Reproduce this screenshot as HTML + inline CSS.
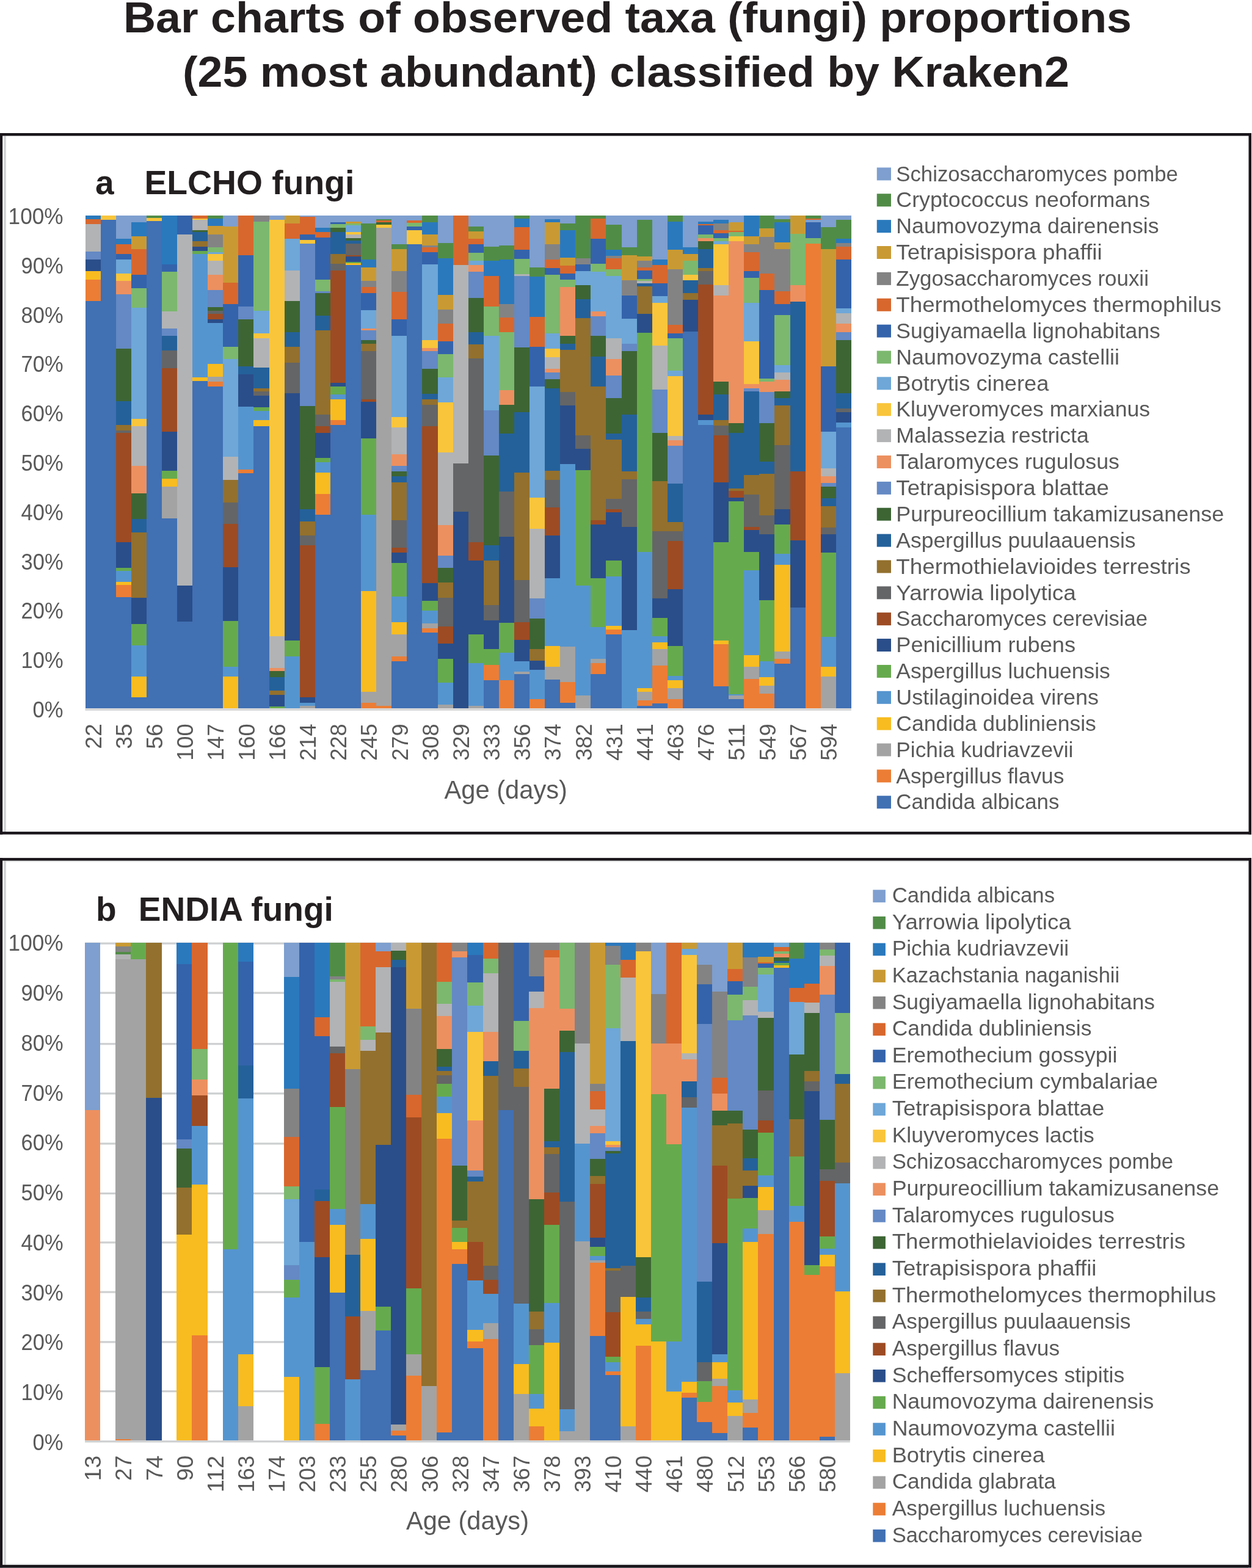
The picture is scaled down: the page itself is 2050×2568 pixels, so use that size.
<!DOCTYPE html><html><head><meta charset="utf-8"><title>Bar charts of observed taxa (fungi) proportions</title>
<style>html,body{margin:0;padding:0;background:#fff;overflow:hidden;}svg{display:block;}.tt{font-family:'Liberation Sans', Arial, sans-serif;font-weight:bold;font-size:71px;fill:#231f20;}.pl{font-family:'Liberation Sans', Arial, sans-serif;font-weight:bold;font-size:55px;fill:#231f20;}.tk{font-family:'Liberation Sans', Arial, sans-serif;font-size:37px;fill:#595959;}.xt{font-family:'Liberation Sans', Arial, sans-serif;font-size:36px;fill:#595959;}.ax{font-family:'Liberation Sans', Arial, sans-serif;font-size:42px;fill:#595959;}.lg{font-family:'Liberation Sans', Arial, sans-serif;font-size:35.3px;fill:#595959;}</style></head><body>
<svg width="2050" height="2568" viewBox="0 0 2050 2568">
<style>g.b rect{shape-rendering:crispEdges}</style>
<rect x="0" y="0" width="2050" height="2568" fill="#fff"/>
<text x="202" y="53.3" textLength="1651" lengthAdjust="spacingAndGlyphs" class="tt">Bar charts of observed taxa (fungi) proportions</text>
<text x="299" y="142.2" textLength="1452" lengthAdjust="spacingAndGlyphs" class="tt">(25 most abundant) classified by Kraken2</text>
<rect x="6.3" y="222.5" width="3.5" height="1139.6" fill="#cfd2d3"/>
<rect x="0" y="218" width="2049" height="4.5" fill="#19151a"/>
<rect x="0" y="1362.1" width="2049" height="4.5" fill="#19151a"/>
<rect x="0" y="218" width="4.2" height="1148.6" fill="#19151a"/>
<rect x="2044.5" y="218" width="4.5" height="1148.6" fill="#19151a"/>
<rect x="6.3" y="1409.6" width="3.5" height="1153.2" fill="#cfd2d3"/>
<rect x="0" y="1405.1" width="2049" height="4.5" fill="#19151a"/>
<rect x="0" y="2562.8" width="2049" height="4.5" fill="#19151a"/>
<rect x="0" y="1405.1" width="4.2" height="1162.2" fill="#19151a"/>
<rect x="2044.5" y="1405.1" width="4.5" height="1162.2" fill="#19151a"/>
<rect x="0" y="2567.3" width="2044" height="0.7" fill="#41474b"/>
<rect x="9.8" y="1410.2" width="2034" height="1.3" fill="#e2e4e4"/>
<rect x="9.8" y="2560.5" width="2034" height="1.6" fill="#eceeee"/>
<text x="156" y="317.5" class="pl">a</text>
<text x="236.4" y="317.5" textLength="344" lengthAdjust="spacingAndGlyphs" class="pl">ELCHO fungi</text>
<text x="157" y="1508.3" class="pl">b</text>
<text x="226.8" y="1508.3" textLength="319" lengthAdjust="spacingAndGlyphs" class="pl">ENDIA fungi</text>
<rect x="139.5" y="1160.2" width="1254.4" height="3.6" fill="#d6d6d6"/>
<g class="b">
<rect x="139.5" y="492.91" width="25.39" height="667.19" fill="#4170b3"/>
<rect x="139.5" y="457.43" width="25.39" height="35.78" fill="#ec7d35"/>
<rect x="139.5" y="443.72" width="25.39" height="14.01" fill="#f8bc20"/>
<rect x="139.5" y="424.36" width="25.39" height="19.65" fill="#2a4e8a"/>
<rect x="139.5" y="411.46" width="25.39" height="13.2" fill="#6489c4"/>
<rect x="139.5" y="367.11" width="25.39" height="44.65" fill="#b2b3b4"/>
<rect x="139.5" y="358.24" width="25.39" height="9.17" fill="#d8672d"/>
<rect x="139.5" y="353.4" width="25.39" height="5.14" fill="#2a79bd"/>
<rect x="164.59" y="359.85" width="25.39" height="800.25" fill="#4170b3"/>
<rect x="164.59" y="353.4" width="25.39" height="6.75" fill="#f9c53b"/>
<rect x="189.68" y="977.55" width="25.39" height="182.55" fill="#4170b3"/>
<rect x="189.68" y="957.39" width="25.39" height="20.46" fill="#ec7d35"/>
<rect x="189.68" y="952.56" width="25.39" height="5.14" fill="#f8bc20"/>
<rect x="189.68" y="934.81" width="25.39" height="18.04" fill="#5595cf"/>
<rect x="189.68" y="929.98" width="25.39" height="5.14" fill="#66aa4e"/>
<rect x="189.68" y="888.04" width="25.39" height="42.23" fill="#2a4e8a"/>
<rect x="189.68" y="708.22" width="25.39" height="180.13" fill="#9d4b23"/>
<rect x="189.68" y="704.99" width="25.39" height="3.53" fill="#646566"/>
<rect x="189.68" y="695.31" width="25.39" height="9.98" fill="#93702d"/>
<rect x="189.68" y="656.61" width="25.39" height="39.01" fill="#24619a"/>
<rect x="189.68" y="571.13" width="25.39" height="85.78" fill="#3d6534"/>
<rect x="189.68" y="481.62" width="25.39" height="89.81" fill="#6489c4"/>
<rect x="189.68" y="459.84" width="25.39" height="22.07" fill="#ec9060"/>
<rect x="189.68" y="447.75" width="25.39" height="12.4" fill="#f9c53b"/>
<rect x="189.68" y="424.36" width="25.39" height="23.69" fill="#6ea7d8"/>
<rect x="189.68" y="415.9" width="25.39" height="8.77" fill="#3463ab"/>
<rect x="189.68" y="399.36" width="25.39" height="16.83" fill="#d8672d"/>
<rect x="189.68" y="390.9" width="25.39" height="8.77" fill="#2a79bd"/>
<rect x="189.68" y="353.4" width="25.39" height="37.8" fill="#7e9fcf"/>
<rect x="214.76" y="1141.25" width="25.39" height="18.85" fill="#4170b3"/>
<rect x="214.76" y="1107.38" width="25.39" height="34.17" fill="#f8bc20"/>
<rect x="214.76" y="1056.58" width="25.39" height="51.1" fill="#5595cf"/>
<rect x="214.76" y="1021.91" width="25.39" height="34.98" fill="#66aa4e"/>
<rect x="214.76" y="978.36" width="25.39" height="43.85" fill="#2a4e8a"/>
<rect x="214.76" y="871.92" width="25.39" height="106.74" fill="#93702d"/>
<rect x="214.76" y="850.14" width="25.39" height="22.07" fill="#24619a"/>
<rect x="214.76" y="807.4" width="25.39" height="43.04" fill="#3d6534"/>
<rect x="214.76" y="763.05" width="25.39" height="44.65" fill="#ec9060"/>
<rect x="214.76" y="697.73" width="25.39" height="65.62" fill="#b2b3b4"/>
<rect x="214.76" y="686.04" width="25.39" height="11.99" fill="#f9c53b"/>
<rect x="214.76" y="503.39" width="25.39" height="182.95" fill="#6ea7d8"/>
<rect x="214.76" y="471.94" width="25.39" height="31.75" fill="#7cb86e"/>
<rect x="214.76" y="450.17" width="25.39" height="22.07" fill="#3463ab"/>
<rect x="214.76" y="407.43" width="25.39" height="43.04" fill="#d8672d"/>
<rect x="214.76" y="386.46" width="25.39" height="21.27" fill="#c99a33"/>
<rect x="214.76" y="363.88" width="25.39" height="22.88" fill="#2a79bd"/>
<rect x="214.76" y="353.4" width="25.39" height="10.78" fill="#7e9fcf"/>
<rect x="239.85" y="361.46" width="25.39" height="798.64" fill="#4170b3"/>
<rect x="239.85" y="356.63" width="25.39" height="5.14" fill="#f9c53b"/>
<rect x="239.85" y="353.4" width="25.39" height="3.53" fill="#518c47"/>
<rect x="264.94" y="848.53" width="25.39" height="311.57" fill="#4170b3"/>
<rect x="264.94" y="796.52" width="25.39" height="52.31" fill="#a3a3a3"/>
<rect x="264.94" y="783.21" width="25.39" height="13.61" fill="#f8bc20"/>
<rect x="264.94" y="770.31" width="25.39" height="13.2" fill="#66aa4e"/>
<rect x="264.94" y="706.6" width="25.39" height="64.01" fill="#2a4e8a"/>
<rect x="264.94" y="602.58" width="25.39" height="104.33" fill="#9d4b23"/>
<rect x="264.94" y="573.55" width="25.39" height="29.33" fill="#646566"/>
<rect x="264.94" y="549.36" width="25.39" height="24.49" fill="#24619a"/>
<rect x="264.94" y="537.26" width="25.39" height="12.4" fill="#6489c4"/>
<rect x="264.94" y="509.84" width="25.39" height="27.72" fill="#b2b3b4"/>
<rect x="264.94" y="444.52" width="25.39" height="65.62" fill="#7cb86e"/>
<rect x="264.94" y="432.43" width="25.39" height="12.4" fill="#3463ab"/>
<rect x="264.94" y="353.4" width="25.39" height="79.33" fill="#2a79bd"/>
<rect x="290.03" y="1017.87" width="25.39" height="142.23" fill="#4170b3"/>
<rect x="290.03" y="959.01" width="25.39" height="59.17" fill="#2a4e8a"/>
<rect x="290.03" y="383.24" width="25.39" height="576.07" fill="#b2b3b4"/>
<rect x="290.03" y="353.4" width="25.39" height="30.14" fill="#3463ab"/>
<rect x="315.12" y="623.54" width="25.39" height="536.56" fill="#4170b3"/>
<rect x="315.12" y="617.9" width="25.39" height="5.94" fill="#f8bc20"/>
<rect x="315.12" y="415.9" width="25.39" height="202.3" fill="#5595cf"/>
<rect x="315.12" y="411.06" width="25.39" height="5.14" fill="#66aa4e"/>
<rect x="315.12" y="403.4" width="25.39" height="7.96" fill="#2a4e8a"/>
<rect x="315.12" y="394.53" width="25.39" height="9.17" fill="#93702d"/>
<rect x="315.12" y="380.01" width="25.39" height="14.82" fill="#24619a"/>
<rect x="315.12" y="376.79" width="25.39" height="3.53" fill="#3d6534"/>
<rect x="315.12" y="359.85" width="25.39" height="17.23" fill="#b2b3b4"/>
<rect x="315.12" y="357.43" width="25.39" height="2.72" fill="#f9c53b"/>
<rect x="315.12" y="353.4" width="25.39" height="4.33" fill="#d8672d"/>
<rect x="340.2" y="632.41" width="25.39" height="527.69" fill="#4170b3"/>
<rect x="340.2" y="624.35" width="25.39" height="8.36" fill="#ec7d35"/>
<rect x="340.2" y="617.09" width="25.39" height="7.56" fill="#a3a3a3"/>
<rect x="340.2" y="595.32" width="25.39" height="22.07" fill="#f8bc20"/>
<rect x="340.2" y="528.39" width="25.39" height="67.23" fill="#5595cf"/>
<rect x="340.2" y="522.74" width="25.39" height="5.94" fill="#2a4e8a"/>
<rect x="340.2" y="513.87" width="25.39" height="9.17" fill="#9d4b23"/>
<rect x="340.2" y="509.04" width="25.39" height="5.14" fill="#646566"/>
<rect x="340.2" y="502.58" width="25.39" height="6.75" fill="#3d6534"/>
<rect x="340.2" y="474.36" width="25.39" height="28.52" fill="#6489c4"/>
<rect x="340.2" y="450.17" width="25.39" height="24.49" fill="#ec9060"/>
<rect x="340.2" y="426.78" width="25.39" height="23.69" fill="#b2b3b4"/>
<rect x="340.2" y="415.9" width="25.39" height="11.19" fill="#f9c53b"/>
<rect x="340.2" y="412.27" width="25.39" height="3.93" fill="#6ea7d8"/>
<rect x="340.2" y="405.01" width="25.39" height="7.56" fill="#7cb86e"/>
<rect x="340.2" y="404.2" width="25.39" height="1.11" fill="#3463ab"/>
<rect x="340.2" y="383.24" width="25.39" height="21.27" fill="#838384"/>
<rect x="340.2" y="369.53" width="25.39" height="14.01" fill="#c99a33"/>
<rect x="340.2" y="357.43" width="25.39" height="12.4" fill="#2a79bd"/>
<rect x="340.2" y="353.4" width="25.39" height="4.33" fill="#518c47"/>
<rect x="365.29" y="1107.38" width="25.39" height="52.72" fill="#f8bc20"/>
<rect x="365.29" y="1091.26" width="25.39" height="16.43" fill="#5595cf"/>
<rect x="365.29" y="1017.07" width="25.39" height="74.49" fill="#66aa4e"/>
<rect x="365.29" y="928.36" width="25.39" height="89" fill="#2a4e8a"/>
<rect x="365.29" y="857.4" width="25.39" height="71.26" fill="#9d4b23"/>
<rect x="365.29" y="822.72" width="25.39" height="34.98" fill="#646566"/>
<rect x="365.29" y="785.63" width="25.39" height="37.39" fill="#93702d"/>
<rect x="365.29" y="747.73" width="25.39" height="38.2" fill="#b2b3b4"/>
<rect x="365.29" y="587.26" width="25.39" height="160.77" fill="#6ea7d8"/>
<rect x="365.29" y="567.9" width="25.39" height="19.65" fill="#7cb86e"/>
<rect x="365.29" y="497.75" width="25.39" height="70.46" fill="#3463ab"/>
<rect x="365.29" y="463.07" width="25.39" height="34.98" fill="#d8672d"/>
<rect x="365.29" y="370.74" width="25.39" height="92.63" fill="#c99a33"/>
<rect x="365.29" y="353.4" width="25.39" height="17.64" fill="#7e9fcf"/>
<rect x="390.38" y="775.15" width="25.39" height="384.95" fill="#4170b3"/>
<rect x="390.38" y="768.7" width="25.39" height="6.75" fill="#ec7d35"/>
<rect x="390.38" y="665.88" width="25.39" height="103.12" fill="#5595cf"/>
<rect x="390.38" y="613.06" width="25.39" height="53.12" fill="#2a4e8a"/>
<rect x="390.38" y="600.16" width="25.39" height="13.2" fill="#24619a"/>
<rect x="390.38" y="522.74" width="25.39" height="77.71" fill="#3d6534"/>
<rect x="390.38" y="501.78" width="25.39" height="21.27" fill="#6489c4"/>
<rect x="390.38" y="417.91" width="25.39" height="84.17" fill="#3463ab"/>
<rect x="390.38" y="353.4" width="25.39" height="64.81" fill="#d8672d"/>
<rect x="415.47" y="697.73" width="25.39" height="462.37" fill="#4170b3"/>
<rect x="415.47" y="687.25" width="25.39" height="10.78" fill="#f8bc20"/>
<rect x="415.47" y="672.73" width="25.39" height="14.82" fill="#5595cf"/>
<rect x="415.47" y="667.09" width="25.39" height="5.94" fill="#66aa4e"/>
<rect x="415.47" y="647.74" width="25.39" height="19.65" fill="#2a4e8a"/>
<rect x="415.47" y="640.88" width="25.39" height="7.15" fill="#646566"/>
<rect x="415.47" y="636.04" width="25.39" height="5.14" fill="#93702d"/>
<rect x="415.47" y="601.77" width="25.39" height="34.57" fill="#24619a"/>
<rect x="415.47" y="554.19" width="25.39" height="47.88" fill="#b2b3b4"/>
<rect x="415.47" y="545.32" width="25.39" height="9.17" fill="#f9c53b"/>
<rect x="415.47" y="509.04" width="25.39" height="36.59" fill="#6ea7d8"/>
<rect x="415.47" y="363.08" width="25.39" height="146.26" fill="#7cb86e"/>
<rect x="415.47" y="353.4" width="25.39" height="9.98" fill="#838384"/>
<rect x="440.56" y="1156.57" width="25.39" height="3.53" fill="#66aa4e"/>
<rect x="440.56" y="1137.22" width="25.39" height="19.65" fill="#2a4e8a"/>
<rect x="440.56" y="1130.77" width="25.39" height="6.75" fill="#93702d"/>
<rect x="440.56" y="1109" width="25.39" height="22.07" fill="#24619a"/>
<rect x="440.56" y="1098.51" width="25.39" height="10.78" fill="#3d6534"/>
<rect x="440.56" y="1093.68" width="25.39" height="5.14" fill="#ec9060"/>
<rect x="440.56" y="1042.07" width="25.39" height="51.91" fill="#b2b3b4"/>
<rect x="440.56" y="359.85" width="25.39" height="682.51" fill="#f9c53b"/>
<rect x="440.56" y="353.4" width="25.39" height="6.75" fill="#7e9fcf"/>
<rect x="465.64" y="1074.32" width="25.39" height="85.78" fill="#5595cf"/>
<rect x="465.64" y="1048.52" width="25.39" height="26.1" fill="#66aa4e"/>
<rect x="465.64" y="643.7" width="25.39" height="405.11" fill="#2a4e8a"/>
<rect x="465.64" y="593.71" width="25.39" height="50.3" fill="#646566"/>
<rect x="465.64" y="567.9" width="25.39" height="26.1" fill="#93702d"/>
<rect x="465.64" y="543.71" width="25.39" height="24.49" fill="#24619a"/>
<rect x="465.64" y="492.91" width="25.39" height="51.1" fill="#3d6534"/>
<rect x="465.64" y="442.91" width="25.39" height="50.3" fill="#b2b3b4"/>
<rect x="465.64" y="390.9" width="25.39" height="52.31" fill="#6ea7d8"/>
<rect x="465.64" y="365.9" width="25.39" height="25.3" fill="#d8672d"/>
<rect x="465.64" y="353.4" width="25.39" height="12.8" fill="#c99a33"/>
<rect x="490.73" y="1155.77" width="25.39" height="4.33" fill="#a3a3a3"/>
<rect x="490.73" y="1150.93" width="25.39" height="5.14" fill="#5595cf"/>
<rect x="490.73" y="1141.25" width="25.39" height="9.98" fill="#2a4e8a"/>
<rect x="490.73" y="892.88" width="25.39" height="248.67" fill="#9d4b23"/>
<rect x="490.73" y="876.35" width="25.39" height="16.83" fill="#646566"/>
<rect x="490.73" y="854.17" width="25.39" height="22.48" fill="#93702d"/>
<rect x="490.73" y="833.21" width="25.39" height="21.27" fill="#24619a"/>
<rect x="490.73" y="664.67" width="25.39" height="168.84" fill="#3d6534"/>
<rect x="490.73" y="398.56" width="25.39" height="266.41" fill="#6489c4"/>
<rect x="490.73" y="392.91" width="25.39" height="5.94" fill="#f9c53b"/>
<rect x="490.73" y="383.24" width="25.39" height="9.98" fill="#3463ab"/>
<rect x="490.73" y="355.01" width="25.39" height="28.52" fill="#d8672d"/>
<rect x="490.73" y="353.4" width="25.39" height="1.91" fill="#7e9fcf"/>
<rect x="515.82" y="842.88" width="25.39" height="317.22" fill="#4170b3"/>
<rect x="515.82" y="809.02" width="25.39" height="34.17" fill="#ec7d35"/>
<rect x="515.82" y="773.53" width="25.39" height="35.78" fill="#f8bc20"/>
<rect x="515.82" y="756.6" width="25.39" height="17.23" fill="#5595cf"/>
<rect x="515.82" y="750.15" width="25.39" height="6.75" fill="#66aa4e"/>
<rect x="515.82" y="708.22" width="25.39" height="42.23" fill="#2a4e8a"/>
<rect x="515.82" y="697.73" width="25.39" height="10.78" fill="#9d4b23"/>
<rect x="515.82" y="679.19" width="25.39" height="18.85" fill="#646566"/>
<rect x="515.82" y="540.48" width="25.39" height="139" fill="#93702d"/>
<rect x="515.82" y="516.29" width="25.39" height="24.49" fill="#24619a"/>
<rect x="515.82" y="480" width="25.39" height="36.59" fill="#3d6534"/>
<rect x="515.82" y="476.78" width="25.39" height="3.53" fill="#6489c4"/>
<rect x="515.82" y="457.43" width="25.39" height="19.65" fill="#7cb86e"/>
<rect x="515.82" y="388.88" width="25.39" height="68.84" fill="#3463ab"/>
<rect x="515.82" y="380.01" width="25.39" height="9.17" fill="#d8672d"/>
<rect x="515.82" y="372.75" width="25.39" height="7.56" fill="#2a79bd"/>
<rect x="515.82" y="353.4" width="25.39" height="19.65" fill="#7e9fcf"/>
<rect x="540.91" y="695.31" width="25.39" height="464.79" fill="#4170b3"/>
<rect x="540.91" y="688.06" width="25.39" height="7.56" fill="#ec7d35"/>
<rect x="540.91" y="653.38" width="25.39" height="34.98" fill="#f8bc20"/>
<rect x="540.91" y="645.32" width="25.39" height="8.36" fill="#5595cf"/>
<rect x="540.91" y="632.41" width="25.39" height="13.2" fill="#66aa4e"/>
<rect x="540.91" y="626.77" width="25.39" height="5.94" fill="#2a4e8a"/>
<rect x="540.91" y="442.91" width="25.39" height="184.16" fill="#9d4b23"/>
<rect x="540.91" y="431.62" width="25.39" height="11.59" fill="#646566"/>
<rect x="540.91" y="415.9" width="25.39" height="16.02" fill="#93702d"/>
<rect x="540.91" y="380.01" width="25.39" height="36.18" fill="#24619a"/>
<rect x="540.91" y="372.75" width="25.39" height="7.56" fill="#3d6534"/>
<rect x="540.91" y="367.11" width="25.39" height="5.94" fill="#7cb86e"/>
<rect x="540.91" y="363.88" width="25.39" height="3.53" fill="#3463ab"/>
<rect x="540.91" y="353.4" width="25.39" height="10.78" fill="#7e9fcf"/>
<rect x="566" y="434.04" width="25.39" height="726.06" fill="#4170b3"/>
<rect x="566" y="430.81" width="25.39" height="3.53" fill="#f8bc20"/>
<rect x="566" y="428.4" width="25.39" height="2.72" fill="#66aa4e"/>
<rect x="566" y="419.52" width="25.39" height="9.17" fill="#2a4e8a"/>
<rect x="566" y="417.91" width="25.39" height="1.91" fill="#9d4b23"/>
<rect x="566" y="398.56" width="25.39" height="19.65" fill="#646566"/>
<rect x="566" y="393.72" width="25.39" height="5.14" fill="#24619a"/>
<rect x="566" y="389.69" width="25.39" height="4.33" fill="#3d6534"/>
<rect x="566" y="383.24" width="25.39" height="6.75" fill="#b2b3b4"/>
<rect x="566" y="380.01" width="25.39" height="3.53" fill="#f9c53b"/>
<rect x="566" y="368.72" width="25.39" height="11.59" fill="#6ea7d8"/>
<rect x="566" y="365.9" width="25.39" height="3.12" fill="#7cb86e"/>
<rect x="566" y="363.08" width="25.39" height="3.12" fill="#c99a33"/>
<rect x="566" y="353.4" width="25.39" height="9.98" fill="#7e9fcf"/>
<rect x="591.08" y="1150.93" width="25.39" height="9.17" fill="#ec7d35"/>
<rect x="591.08" y="1133.19" width="25.39" height="18.04" fill="#a3a3a3"/>
<rect x="591.08" y="967.88" width="25.39" height="165.61" fill="#f8bc20"/>
<rect x="591.08" y="842.88" width="25.39" height="125.29" fill="#5595cf"/>
<rect x="591.08" y="717.89" width="25.39" height="125.29" fill="#66aa4e"/>
<rect x="591.08" y="657.41" width="25.39" height="60.78" fill="#2a4e8a"/>
<rect x="591.08" y="653.38" width="25.39" height="4.33" fill="#9d4b23"/>
<rect x="591.08" y="574.35" width="25.39" height="79.33" fill="#646566"/>
<rect x="591.08" y="563.06" width="25.39" height="11.59" fill="#93702d"/>
<rect x="591.08" y="556.61" width="25.39" height="6.75" fill="#3d6534"/>
<rect x="591.08" y="540.89" width="25.39" height="16.02" fill="#6489c4"/>
<rect x="591.08" y="537.26" width="25.39" height="3.93" fill="#ec9060"/>
<rect x="591.08" y="507.42" width="25.39" height="30.14" fill="#6ea7d8"/>
<rect x="591.08" y="479.2" width="25.39" height="28.52" fill="#3463ab"/>
<rect x="591.08" y="469.52" width="25.39" height="9.98" fill="#d8672d"/>
<rect x="591.08" y="459.84" width="25.39" height="9.98" fill="#838384"/>
<rect x="591.08" y="437.27" width="25.39" height="22.88" fill="#c99a33"/>
<rect x="591.08" y="424.36" width="25.39" height="13.2" fill="#2a79bd"/>
<rect x="591.08" y="365.9" width="25.39" height="58.76" fill="#518c47"/>
<rect x="591.08" y="353.4" width="25.39" height="12.8" fill="#7e9fcf"/>
<rect x="616.17" y="1155.77" width="25.39" height="4.33" fill="#ec7d35"/>
<rect x="616.17" y="372.75" width="25.39" height="783.31" fill="#a3a3a3"/>
<rect x="616.17" y="367.92" width="25.39" height="5.14" fill="#f9c53b"/>
<rect x="616.17" y="363.88" width="25.39" height="4.33" fill="#3d6534"/>
<rect x="616.17" y="361.06" width="25.39" height="3.12" fill="#d8672d"/>
<rect x="616.17" y="359.04" width="25.39" height="2.32" fill="#518c47"/>
<rect x="616.17" y="353.4" width="25.39" height="5.94" fill="#7e9fcf"/>
<rect x="641.26" y="1082.39" width="25.39" height="77.71" fill="#4170b3"/>
<rect x="641.26" y="1074.32" width="25.39" height="8.36" fill="#ec7d35"/>
<rect x="641.26" y="1038.84" width="25.39" height="35.78" fill="#a3a3a3"/>
<rect x="641.26" y="1018.68" width="25.39" height="20.46" fill="#f8bc20"/>
<rect x="641.26" y="976.75" width="25.39" height="42.23" fill="#5595cf"/>
<rect x="641.26" y="921.91" width="25.39" height="55.14" fill="#66aa4e"/>
<rect x="641.26" y="904.98" width="25.39" height="17.23" fill="#2a4e8a"/>
<rect x="641.26" y="896.91" width="25.39" height="8.36" fill="#9d4b23"/>
<rect x="641.26" y="851.35" width="25.39" height="45.86" fill="#646566"/>
<rect x="641.26" y="789.66" width="25.39" height="61.99" fill="#93702d"/>
<rect x="641.26" y="779.99" width="25.39" height="9.98" fill="#24619a"/>
<rect x="641.26" y="771.52" width="25.39" height="8.77" fill="#3d6534"/>
<rect x="641.26" y="763.05" width="25.39" height="8.77" fill="#6489c4"/>
<rect x="641.26" y="743.7" width="25.39" height="19.65" fill="#ec9060"/>
<rect x="641.26" y="699.35" width="25.39" height="44.65" fill="#b2b3b4"/>
<rect x="641.26" y="682.41" width="25.39" height="17.23" fill="#f9c53b"/>
<rect x="641.26" y="549.36" width="25.39" height="133.36" fill="#6ea7d8"/>
<rect x="641.26" y="522.74" width="25.39" height="26.91" fill="#3463ab"/>
<rect x="641.26" y="477.59" width="25.39" height="45.46" fill="#d8672d"/>
<rect x="641.26" y="443.72" width="25.39" height="34.17" fill="#838384"/>
<rect x="641.26" y="407.43" width="25.39" height="36.59" fill="#c99a33"/>
<rect x="641.26" y="399.36" width="25.39" height="8.36" fill="#518c47"/>
<rect x="641.26" y="353.4" width="25.39" height="46.26" fill="#7e9fcf"/>
<rect x="666.35" y="399.36" width="25.39" height="760.74" fill="#4170b3"/>
<rect x="666.35" y="376.79" width="25.39" height="22.88" fill="#f9c53b"/>
<rect x="666.35" y="370.33" width="25.39" height="6.75" fill="#3463ab"/>
<rect x="666.35" y="364.69" width="25.39" height="5.94" fill="#7cb86e"/>
<rect x="666.35" y="361.06" width="25.39" height="3.93" fill="#d8672d"/>
<rect x="666.35" y="353.4" width="25.39" height="7.96" fill="#7e9fcf"/>
<rect x="691.44" y="1035.21" width="25.39" height="124.89" fill="#4170b3"/>
<rect x="691.44" y="1028.36" width="25.39" height="7.15" fill="#ec7d35"/>
<rect x="691.44" y="1020.7" width="25.39" height="7.96" fill="#a3a3a3"/>
<rect x="691.44" y="999.33" width="25.39" height="21.67" fill="#5595cf"/>
<rect x="691.44" y="984" width="25.39" height="15.62" fill="#66aa4e"/>
<rect x="691.44" y="954.97" width="25.39" height="29.33" fill="#2a4e8a"/>
<rect x="691.44" y="697.73" width="25.39" height="257.54" fill="#9d4b23"/>
<rect x="691.44" y="662.25" width="25.39" height="35.78" fill="#646566"/>
<rect x="691.44" y="653.38" width="25.39" height="9.17" fill="#93702d"/>
<rect x="691.44" y="644.51" width="25.39" height="9.17" fill="#24619a"/>
<rect x="691.44" y="604.19" width="25.39" height="40.62" fill="#3d6534"/>
<rect x="691.44" y="575.16" width="25.39" height="29.33" fill="#6489c4"/>
<rect x="691.44" y="569.52" width="25.39" height="5.94" fill="#ec9060"/>
<rect x="691.44" y="556.61" width="25.39" height="13.2" fill="#f9c53b"/>
<rect x="691.44" y="432.43" width="25.39" height="124.49" fill="#6ea7d8"/>
<rect x="691.44" y="412.27" width="25.39" height="20.46" fill="#3463ab"/>
<rect x="691.44" y="405.01" width="25.39" height="7.56" fill="#d8672d"/>
<rect x="691.44" y="401.78" width="25.39" height="3.53" fill="#838384"/>
<rect x="691.44" y="383.24" width="25.39" height="18.85" fill="#c99a33"/>
<rect x="691.44" y="363.88" width="25.39" height="19.65" fill="#2a79bd"/>
<rect x="691.44" y="353.4" width="25.39" height="10.78" fill="#518c47"/>
<rect x="716.52" y="1154.16" width="25.39" height="5.94" fill="#a3a3a3"/>
<rect x="716.52" y="1117.87" width="25.39" height="36.59" fill="#5595cf"/>
<rect x="716.52" y="1078.35" width="25.39" height="39.81" fill="#66aa4e"/>
<rect x="716.52" y="1053.36" width="25.39" height="25.3" fill="#2a4e8a"/>
<rect x="716.52" y="1025.53" width="25.39" height="28.12" fill="#9d4b23"/>
<rect x="716.52" y="978.36" width="25.39" height="47.47" fill="#646566"/>
<rect x="716.52" y="954.17" width="25.39" height="24.49" fill="#93702d"/>
<rect x="716.52" y="929.98" width="25.39" height="24.49" fill="#3d6534"/>
<rect x="716.52" y="909.82" width="25.39" height="20.46" fill="#6489c4"/>
<rect x="716.52" y="859.82" width="25.39" height="50.3" fill="#ec9060"/>
<rect x="716.52" y="740.47" width="25.39" height="119.65" fill="#b2b3b4"/>
<rect x="716.52" y="659.03" width="25.39" height="81.75" fill="#f9c53b"/>
<rect x="716.52" y="617.9" width="25.39" height="41.43" fill="#6ea7d8"/>
<rect x="716.52" y="580" width="25.39" height="38.2" fill="#7cb86e"/>
<rect x="716.52" y="558.23" width="25.39" height="22.07" fill="#3463ab"/>
<rect x="716.52" y="530" width="25.39" height="28.52" fill="#d8672d"/>
<rect x="716.52" y="506.62" width="25.39" height="23.69" fill="#838384"/>
<rect x="716.52" y="482.42" width="25.39" height="24.49" fill="#c99a33"/>
<rect x="716.52" y="422.75" width="25.39" height="59.97" fill="#2a79bd"/>
<rect x="716.52" y="397.75" width="25.39" height="25.3" fill="#518c47"/>
<rect x="716.52" y="353.4" width="25.39" height="44.65" fill="#7e9fcf"/>
<rect x="741.61" y="838.05" width="25.39" height="322.05" fill="#2a4e8a"/>
<rect x="741.61" y="759.02" width="25.39" height="79.33" fill="#646566"/>
<rect x="741.61" y="434.04" width="25.39" height="325.28" fill="#b2b3b4"/>
<rect x="741.61" y="353.4" width="25.39" height="80.94" fill="#d8672d"/>
<rect x="766.7" y="1155.77" width="25.39" height="4.33" fill="#a3a3a3"/>
<rect x="766.7" y="1085.21" width="25.39" height="70.86" fill="#5595cf"/>
<rect x="766.7" y="1038.84" width="25.39" height="46.67" fill="#66aa4e"/>
<rect x="766.7" y="917.88" width="25.39" height="121.26" fill="#2a4e8a"/>
<rect x="766.7" y="888.04" width="25.39" height="30.14" fill="#9d4b23"/>
<rect x="766.7" y="586.45" width="25.39" height="301.89" fill="#646566"/>
<rect x="766.7" y="563.87" width="25.39" height="22.88" fill="#93702d"/>
<rect x="766.7" y="543.71" width="25.39" height="20.46" fill="#24619a"/>
<rect x="766.7" y="487.26" width="25.39" height="56.75" fill="#3d6534"/>
<rect x="766.7" y="444.52" width="25.39" height="43.04" fill="#6489c4"/>
<rect x="766.7" y="434.04" width="25.39" height="10.78" fill="#ec9060"/>
<rect x="766.7" y="426.78" width="25.39" height="7.56" fill="#6ea7d8"/>
<rect x="766.7" y="413.88" width="25.39" height="13.2" fill="#7cb86e"/>
<rect x="766.7" y="399.36" width="25.39" height="14.82" fill="#3463ab"/>
<rect x="766.7" y="390.9" width="25.39" height="8.77" fill="#d8672d"/>
<rect x="766.7" y="378.4" width="25.39" height="12.8" fill="#c99a33"/>
<rect x="766.7" y="370.74" width="25.39" height="7.96" fill="#518c47"/>
<rect x="766.7" y="353.4" width="25.39" height="17.64" fill="#7e9fcf"/>
<rect x="791.79" y="1113.84" width="25.39" height="46.26" fill="#4170b3"/>
<rect x="791.79" y="1088.84" width="25.39" height="25.3" fill="#ec7d35"/>
<rect x="791.79" y="1063.03" width="25.39" height="26.1" fill="#66aa4e"/>
<rect x="791.79" y="1015.86" width="25.39" height="47.47" fill="#2a4e8a"/>
<rect x="791.79" y="990.86" width="25.39" height="25.3" fill="#646566"/>
<rect x="791.79" y="917.88" width="25.39" height="73.28" fill="#93702d"/>
<rect x="791.79" y="892.88" width="25.39" height="25.3" fill="#24619a"/>
<rect x="791.79" y="745.31" width="25.39" height="147.87" fill="#3d6534"/>
<rect x="791.79" y="671.93" width="25.39" height="73.68" fill="#6489c4"/>
<rect x="791.79" y="549.36" width="25.39" height="122.87" fill="#6ea7d8"/>
<rect x="791.79" y="501.78" width="25.39" height="47.88" fill="#7cb86e"/>
<rect x="791.79" y="451.78" width="25.39" height="50.3" fill="#d8672d"/>
<rect x="791.79" y="426.78" width="25.39" height="25.3" fill="#2a79bd"/>
<rect x="791.79" y="403.4" width="25.39" height="23.69" fill="#518c47"/>
<rect x="791.79" y="353.4" width="25.39" height="50.3" fill="#7e9fcf"/>
<rect x="816.88" y="1113.84" width="25.39" height="46.26" fill="#ec7d35"/>
<rect x="816.88" y="1068.68" width="25.39" height="45.46" fill="#5595cf"/>
<rect x="816.88" y="1019.49" width="25.39" height="49.49" fill="#66aa4e"/>
<rect x="816.88" y="878.37" width="25.39" height="141.42" fill="#2a4e8a"/>
<rect x="816.88" y="804.98" width="25.39" height="73.68" fill="#646566"/>
<rect x="816.88" y="709.83" width="25.39" height="95.46" fill="#24619a"/>
<rect x="816.88" y="662.25" width="25.39" height="47.88" fill="#3d6534"/>
<rect x="816.88" y="638.87" width="25.39" height="23.69" fill="#ec9060"/>
<rect x="816.88" y="543.71" width="25.39" height="95.46" fill="#7cb86e"/>
<rect x="816.88" y="519.52" width="25.39" height="24.49" fill="#d8672d"/>
<rect x="816.88" y="497.75" width="25.39" height="22.07" fill="#838384"/>
<rect x="816.88" y="424.36" width="25.39" height="73.68" fill="#2a79bd"/>
<rect x="816.88" y="401.78" width="25.39" height="22.88" fill="#518c47"/>
<rect x="816.88" y="353.4" width="25.39" height="48.68" fill="#7e9fcf"/>
<rect x="841.96" y="1103.35" width="25.39" height="56.75" fill="#4170b3"/>
<rect x="841.96" y="1099.32" width="25.39" height="4.33" fill="#a3a3a3"/>
<rect x="841.96" y="1082.39" width="25.39" height="17.23" fill="#5595cf"/>
<rect x="841.96" y="1047.71" width="25.39" height="34.98" fill="#2a4e8a"/>
<rect x="841.96" y="1018.68" width="25.39" height="29.33" fill="#9d4b23"/>
<rect x="841.96" y="949.33" width="25.39" height="69.65" fill="#646566"/>
<rect x="841.96" y="773.53" width="25.39" height="176.1" fill="#93702d"/>
<rect x="841.96" y="674.35" width="25.39" height="99.49" fill="#24619a"/>
<rect x="841.96" y="568.71" width="25.39" height="105.94" fill="#3d6534"/>
<rect x="841.96" y="451.78" width="25.39" height="117.23" fill="#6489c4"/>
<rect x="841.96" y="448.56" width="25.39" height="3.53" fill="#b2b3b4"/>
<rect x="841.96" y="423.56" width="25.39" height="25.3" fill="#7cb86e"/>
<rect x="841.96" y="408.24" width="25.39" height="15.62" fill="#3463ab"/>
<rect x="841.96" y="371.95" width="25.39" height="36.59" fill="#d8672d"/>
<rect x="841.96" y="357.43" width="25.39" height="14.82" fill="#2a79bd"/>
<rect x="841.96" y="353.4" width="25.39" height="4.33" fill="#518c47"/>
<rect x="867.05" y="1144.88" width="25.39" height="15.22" fill="#ec7d35"/>
<rect x="867.05" y="1096.9" width="25.39" height="48.28" fill="#5595cf"/>
<rect x="867.05" y="1081.58" width="25.39" height="15.62" fill="#2a4e8a"/>
<rect x="867.05" y="1063.03" width="25.39" height="18.85" fill="#93702d"/>
<rect x="867.05" y="1013.04" width="25.39" height="50.3" fill="#3d6534"/>
<rect x="867.05" y="979.97" width="25.39" height="33.36" fill="#6489c4"/>
<rect x="867.05" y="865.46" width="25.39" height="114.81" fill="#b2b3b4"/>
<rect x="867.05" y="814.66" width="25.39" height="51.1" fill="#f9c53b"/>
<rect x="867.05" y="632.41" width="25.39" height="182.55" fill="#6ea7d8"/>
<rect x="867.05" y="567.9" width="25.39" height="64.81" fill="#3463ab"/>
<rect x="867.05" y="518.71" width="25.39" height="49.49" fill="#d8672d"/>
<rect x="867.05" y="452.59" width="25.39" height="66.42" fill="#2a79bd"/>
<rect x="867.05" y="437.27" width="25.39" height="15.62" fill="#518c47"/>
<rect x="867.05" y="353.4" width="25.39" height="84.17" fill="#7e9fcf"/>
<rect x="892.14" y="1112.22" width="25.39" height="47.88" fill="#4170b3"/>
<rect x="892.14" y="1091.26" width="25.39" height="21.27" fill="#a3a3a3"/>
<rect x="892.14" y="1057.39" width="25.39" height="34.17" fill="#f8bc20"/>
<rect x="892.14" y="946.91" width="25.39" height="110.78" fill="#5595cf"/>
<rect x="892.14" y="876.35" width="25.39" height="70.86" fill="#2a4e8a"/>
<rect x="892.14" y="831.19" width="25.39" height="45.46" fill="#9d4b23"/>
<rect x="892.14" y="785.63" width="25.39" height="45.86" fill="#646566"/>
<rect x="892.14" y="771.12" width="25.39" height="14.82" fill="#93702d"/>
<rect x="892.14" y="636.04" width="25.39" height="135.37" fill="#24619a"/>
<rect x="892.14" y="620.32" width="25.39" height="16.02" fill="#3d6534"/>
<rect x="892.14" y="609.84" width="25.39" height="10.78" fill="#6489c4"/>
<rect x="892.14" y="603.38" width="25.39" height="6.75" fill="#ec9060"/>
<rect x="892.14" y="584.84" width="25.39" height="18.85" fill="#b2b3b4"/>
<rect x="892.14" y="570.32" width="25.39" height="14.82" fill="#f9c53b"/>
<rect x="892.14" y="545.32" width="25.39" height="25.3" fill="#6ea7d8"/>
<rect x="892.14" y="449.36" width="25.39" height="96.26" fill="#7cb86e"/>
<rect x="892.14" y="438.88" width="25.39" height="10.78" fill="#3463ab"/>
<rect x="892.14" y="424.36" width="25.39" height="14.82" fill="#d8672d"/>
<rect x="892.14" y="399.36" width="25.39" height="25.3" fill="#838384"/>
<rect x="892.14" y="363.88" width="25.39" height="35.78" fill="#c99a33"/>
<rect x="892.14" y="359.04" width="25.39" height="5.14" fill="#2a79bd"/>
<rect x="892.14" y="353.4" width="25.39" height="5.94" fill="#7e9fcf"/>
<rect x="917.23" y="1150.93" width="25.39" height="9.17" fill="#4170b3"/>
<rect x="917.23" y="1116.25" width="25.39" height="34.98" fill="#ec7d35"/>
<rect x="917.23" y="1058.19" width="25.39" height="58.36" fill="#a3a3a3"/>
<rect x="917.23" y="759.83" width="25.39" height="298.67" fill="#5595cf"/>
<rect x="917.23" y="663.86" width="25.39" height="96.26" fill="#2a4e8a"/>
<rect x="917.23" y="642.09" width="25.39" height="22.07" fill="#646566"/>
<rect x="917.23" y="572.74" width="25.39" height="69.65" fill="#93702d"/>
<rect x="917.23" y="562.26" width="25.39" height="10.78" fill="#24619a"/>
<rect x="917.23" y="549.36" width="25.39" height="13.2" fill="#3d6534"/>
<rect x="917.23" y="469.52" width="25.39" height="80.13" fill="#ec9060"/>
<rect x="917.23" y="457.43" width="25.39" height="12.4" fill="#7cb86e"/>
<rect x="917.23" y="447.75" width="25.39" height="9.98" fill="#3463ab"/>
<rect x="917.23" y="434.85" width="25.39" height="13.2" fill="#d8672d"/>
<rect x="917.23" y="421.94" width="25.39" height="13.2" fill="#c99a33"/>
<rect x="917.23" y="376.79" width="25.39" height="45.46" fill="#2a79bd"/>
<rect x="917.23" y="365.9" width="25.39" height="11.19" fill="#518c47"/>
<rect x="917.23" y="353.4" width="25.39" height="12.8" fill="#7e9fcf"/>
<rect x="942.32" y="1138.83" width="25.39" height="21.27" fill="#a3a3a3"/>
<rect x="942.32" y="959.01" width="25.39" height="180.13" fill="#5595cf"/>
<rect x="942.32" y="769.5" width="25.39" height="189.8" fill="#66aa4e"/>
<rect x="942.32" y="734.83" width="25.39" height="34.98" fill="#2a4e8a"/>
<rect x="942.32" y="712.25" width="25.39" height="22.88" fill="#646566"/>
<rect x="942.32" y="520.32" width="25.39" height="192.22" fill="#93702d"/>
<rect x="942.32" y="489.68" width="25.39" height="30.94" fill="#24619a"/>
<rect x="942.32" y="467.1" width="25.39" height="22.88" fill="#3d6534"/>
<rect x="942.32" y="443.72" width="25.39" height="23.69" fill="#6ea7d8"/>
<rect x="942.32" y="432.43" width="25.39" height="11.59" fill="#3463ab"/>
<rect x="942.32" y="422.75" width="25.39" height="9.98" fill="#838384"/>
<rect x="942.32" y="353.4" width="25.39" height="69.65" fill="#518c47"/>
<rect x="967.4" y="1103.35" width="25.39" height="56.75" fill="#4170b3"/>
<rect x="967.4" y="1085.21" width="25.39" height="18.44" fill="#ec7d35"/>
<rect x="967.4" y="1078.35" width="25.39" height="7.15" fill="#a3a3a3"/>
<rect x="967.4" y="1026.74" width="25.39" height="51.91" fill="#5595cf"/>
<rect x="967.4" y="946.91" width="25.39" height="80.13" fill="#66aa4e"/>
<rect x="967.4" y="858.21" width="25.39" height="89" fill="#2a4e8a"/>
<rect x="967.4" y="851.35" width="25.39" height="7.15" fill="#9d4b23"/>
<rect x="967.4" y="632.41" width="25.39" height="219.24" fill="#93702d"/>
<rect x="967.4" y="583.22" width="25.39" height="49.49" fill="#24619a"/>
<rect x="967.4" y="549.36" width="25.39" height="34.17" fill="#3d6534"/>
<rect x="967.4" y="517.91" width="25.39" height="31.75" fill="#6489c4"/>
<rect x="967.4" y="509.84" width="25.39" height="8.36" fill="#ec9060"/>
<rect x="967.4" y="444.52" width="25.39" height="65.62" fill="#6ea7d8"/>
<rect x="967.4" y="431.62" width="25.39" height="13.2" fill="#7cb86e"/>
<rect x="967.4" y="390.9" width="25.39" height="41.02" fill="#3463ab"/>
<rect x="967.4" y="357.43" width="25.39" height="33.77" fill="#d8672d"/>
<rect x="967.4" y="353.4" width="25.39" height="4.33" fill="#518c47"/>
<rect x="992.49" y="1038.84" width="25.39" height="121.26" fill="#4170b3"/>
<rect x="992.49" y="1030.37" width="25.39" height="8.77" fill="#ec7d35"/>
<rect x="992.49" y="1024.32" width="25.39" height="6.35" fill="#f8bc20"/>
<rect x="992.49" y="943.68" width="25.39" height="80.94" fill="#5595cf"/>
<rect x="992.49" y="917.88" width="25.39" height="26.1" fill="#66aa4e"/>
<rect x="992.49" y="838.85" width="25.39" height="79.33" fill="#2a4e8a"/>
<rect x="992.49" y="834.01" width="25.39" height="5.14" fill="#9d4b23"/>
<rect x="992.49" y="816.68" width="25.39" height="17.64" fill="#646566"/>
<rect x="992.49" y="719.51" width="25.39" height="97.47" fill="#93702d"/>
<rect x="992.49" y="709.83" width="25.39" height="9.98" fill="#24619a"/>
<rect x="992.49" y="651.77" width="25.39" height="58.36" fill="#3d6534"/>
<rect x="992.49" y="614.67" width="25.39" height="37.39" fill="#6489c4"/>
<rect x="992.49" y="588.06" width="25.39" height="26.91" fill="#ec9060"/>
<rect x="992.49" y="553.39" width="25.39" height="34.98" fill="#b2b3b4"/>
<rect x="992.49" y="451.78" width="25.39" height="101.91" fill="#6ea7d8"/>
<rect x="992.49" y="440.89" width="25.39" height="11.19" fill="#7cb86e"/>
<rect x="992.49" y="422.75" width="25.39" height="18.44" fill="#d8672d"/>
<rect x="992.49" y="418.72" width="25.39" height="4.33" fill="#838384"/>
<rect x="992.49" y="408.24" width="25.39" height="10.78" fill="#2a79bd"/>
<rect x="992.49" y="367.92" width="25.39" height="40.62" fill="#518c47"/>
<rect x="992.49" y="353.4" width="25.39" height="14.82" fill="#7e9fcf"/>
<rect x="1017.58" y="1031.58" width="25.39" height="128.52" fill="#5595cf"/>
<rect x="1017.58" y="863.04" width="25.39" height="168.84" fill="#2a4e8a"/>
<rect x="1017.58" y="784.82" width="25.39" height="78.52" fill="#646566"/>
<rect x="1017.58" y="771.52" width="25.39" height="13.61" fill="#93702d"/>
<rect x="1017.58" y="679.19" width="25.39" height="92.63" fill="#24619a"/>
<rect x="1017.58" y="574.35" width="25.39" height="105.13" fill="#3d6534"/>
<rect x="1017.58" y="563.06" width="25.39" height="11.59" fill="#6489c4"/>
<rect x="1017.58" y="521.94" width="25.39" height="41.43" fill="#6ea7d8"/>
<rect x="1017.58" y="484.04" width="25.39" height="38.2" fill="#3463ab"/>
<rect x="1017.58" y="458.23" width="25.39" height="26.1" fill="#838384"/>
<rect x="1017.58" y="417.91" width="25.39" height="40.62" fill="#c99a33"/>
<rect x="1017.58" y="405.01" width="25.39" height="13.2" fill="#518c47"/>
<rect x="1017.58" y="353.4" width="25.39" height="51.91" fill="#7e9fcf"/>
<rect x="1042.67" y="1155.77" width="25.39" height="4.33" fill="#4170b3"/>
<rect x="1042.67" y="1146.9" width="25.39" height="9.17" fill="#ec7d35"/>
<rect x="1042.67" y="1133.19" width="25.39" height="14.01" fill="#a3a3a3"/>
<rect x="1042.67" y="1126.74" width="25.39" height="6.75" fill="#f8bc20"/>
<rect x="1042.67" y="903.36" width="25.39" height="223.67" fill="#5595cf"/>
<rect x="1042.67" y="544.52" width="25.39" height="359.15" fill="#66aa4e"/>
<rect x="1042.67" y="513.87" width="25.39" height="30.94" fill="#2a4e8a"/>
<rect x="1042.67" y="468.72" width="25.39" height="45.46" fill="#93702d"/>
<rect x="1042.67" y="463.88" width="25.39" height="5.14" fill="#24619a"/>
<rect x="1042.67" y="459.84" width="25.39" height="4.33" fill="#b2b3b4"/>
<rect x="1042.67" y="456.62" width="25.39" height="3.53" fill="#7cb86e"/>
<rect x="1042.67" y="442.91" width="25.39" height="14.01" fill="#3463ab"/>
<rect x="1042.67" y="438.07" width="25.39" height="5.14" fill="#d8672d"/>
<rect x="1042.67" y="426.78" width="25.39" height="11.59" fill="#838384"/>
<rect x="1042.67" y="419.52" width="25.39" height="7.56" fill="#c99a33"/>
<rect x="1042.67" y="359.85" width="25.39" height="59.97" fill="#518c47"/>
<rect x="1042.67" y="353.4" width="25.39" height="6.75" fill="#7e9fcf"/>
<rect x="1067.76" y="1151.74" width="25.39" height="8.36" fill="#4170b3"/>
<rect x="1067.76" y="1090.05" width="25.39" height="61.99" fill="#ec7d35"/>
<rect x="1067.76" y="1062.23" width="25.39" height="28.12" fill="#a3a3a3"/>
<rect x="1067.76" y="1051.74" width="25.39" height="10.78" fill="#f8bc20"/>
<rect x="1067.76" y="1042.07" width="25.39" height="9.98" fill="#5595cf"/>
<rect x="1067.76" y="1011.42" width="25.39" height="30.94" fill="#66aa4e"/>
<rect x="1067.76" y="979.97" width="25.39" height="31.75" fill="#2a4e8a"/>
<rect x="1067.76" y="869.5" width="25.39" height="110.78" fill="#646566"/>
<rect x="1067.76" y="787.24" width="25.39" height="82.55" fill="#93702d"/>
<rect x="1067.76" y="708.22" width="25.39" height="79.33" fill="#3d6534"/>
<rect x="1067.76" y="637.25" width="25.39" height="71.26" fill="#6489c4"/>
<rect x="1067.76" y="565.89" width="25.39" height="71.67" fill="#b2b3b4"/>
<rect x="1067.76" y="495.33" width="25.39" height="70.86" fill="#f9c53b"/>
<rect x="1067.76" y="484.84" width="25.39" height="10.78" fill="#6ea7d8"/>
<rect x="1067.76" y="463.88" width="25.39" height="21.27" fill="#3463ab"/>
<rect x="1067.76" y="434.04" width="25.39" height="30.14" fill="#d8672d"/>
<rect x="1067.76" y="424.36" width="25.39" height="9.98" fill="#2a79bd"/>
<rect x="1067.76" y="353.4" width="25.39" height="71.26" fill="#7e9fcf"/>
<rect x="1092.84" y="1144.88" width="25.39" height="15.22" fill="#ec7d35"/>
<rect x="1092.84" y="1126.74" width="25.39" height="18.44" fill="#a3a3a3"/>
<rect x="1092.84" y="1113.84" width="25.39" height="13.2" fill="#f8bc20"/>
<rect x="1092.84" y="1106.58" width="25.39" height="7.56" fill="#5595cf"/>
<rect x="1092.84" y="1057.39" width="25.39" height="49.49" fill="#66aa4e"/>
<rect x="1092.84" y="964.65" width="25.39" height="93.04" fill="#2a4e8a"/>
<rect x="1092.84" y="885.62" width="25.39" height="79.33" fill="#9d4b23"/>
<rect x="1092.84" y="869.5" width="25.39" height="16.43" fill="#646566"/>
<rect x="1092.84" y="854.98" width="25.39" height="14.82" fill="#93702d"/>
<rect x="1092.84" y="792.08" width="25.39" height="63.2" fill="#24619a"/>
<rect x="1092.84" y="729.99" width="25.39" height="62.39" fill="#6489c4"/>
<rect x="1092.84" y="720.31" width="25.39" height="9.98" fill="#ec9060"/>
<rect x="1092.84" y="713.86" width="25.39" height="6.75" fill="#b2b3b4"/>
<rect x="1092.84" y="615.48" width="25.39" height="98.68" fill="#f9c53b"/>
<rect x="1092.84" y="606.61" width="25.39" height="9.17" fill="#6ea7d8"/>
<rect x="1092.84" y="553.39" width="25.39" height="53.52" fill="#7cb86e"/>
<rect x="1092.84" y="545.32" width="25.39" height="8.36" fill="#3463ab"/>
<rect x="1092.84" y="531.61" width="25.39" height="14.01" fill="#d8672d"/>
<rect x="1092.84" y="440.89" width="25.39" height="91.02" fill="#838384"/>
<rect x="1092.84" y="408.24" width="25.39" height="32.96" fill="#c99a33"/>
<rect x="1092.84" y="362.27" width="25.39" height="46.26" fill="#2a79bd"/>
<rect x="1092.84" y="353.4" width="25.39" height="9.17" fill="#518c47"/>
<rect x="1117.93" y="542.9" width="25.39" height="617.2" fill="#4170b3"/>
<rect x="1117.93" y="490.89" width="25.39" height="52.31" fill="#2a4e8a"/>
<rect x="1117.93" y="480" width="25.39" height="11.19" fill="#93702d"/>
<rect x="1117.93" y="459.04" width="25.39" height="21.27" fill="#24619a"/>
<rect x="1117.93" y="449.36" width="25.39" height="9.98" fill="#f9c53b"/>
<rect x="1117.93" y="426.78" width="25.39" height="22.88" fill="#7cb86e"/>
<rect x="1117.93" y="415.9" width="25.39" height="11.19" fill="#c99a33"/>
<rect x="1117.93" y="405.01" width="25.39" height="11.19" fill="#2a79bd"/>
<rect x="1117.93" y="353.4" width="25.39" height="51.91" fill="#7e9fcf"/>
<rect x="1143.02" y="695.31" width="25.39" height="464.79" fill="#4170b3"/>
<rect x="1143.02" y="687.25" width="25.39" height="8.36" fill="#5595cf"/>
<rect x="1143.02" y="678.38" width="25.39" height="9.17" fill="#2a4e8a"/>
<rect x="1143.02" y="465.89" width="25.39" height="212.79" fill="#9d4b23"/>
<rect x="1143.02" y="443.72" width="25.39" height="22.48" fill="#646566"/>
<rect x="1143.02" y="438.88" width="25.39" height="5.14" fill="#93702d"/>
<rect x="1143.02" y="407.43" width="25.39" height="31.75" fill="#24619a"/>
<rect x="1143.02" y="394.53" width="25.39" height="13.2" fill="#3d6534"/>
<rect x="1143.02" y="389.69" width="25.39" height="5.14" fill="#ec9060"/>
<rect x="1143.02" y="383.24" width="25.39" height="6.75" fill="#7cb86e"/>
<rect x="1143.02" y="368.72" width="25.39" height="14.82" fill="#3463ab"/>
<rect x="1143.02" y="367.11" width="25.39" height="1.91" fill="#d8672d"/>
<rect x="1143.02" y="362.27" width="25.39" height="5.14" fill="#2a79bd"/>
<rect x="1143.02" y="353.4" width="25.39" height="9.17" fill="#7e9fcf"/>
<rect x="1168.11" y="1123.51" width="25.39" height="36.59" fill="#4170b3"/>
<rect x="1168.11" y="1054.97" width="25.39" height="68.84" fill="#ec7d35"/>
<rect x="1168.11" y="1048.52" width="25.39" height="6.75" fill="#f8bc20"/>
<rect x="1168.11" y="888.04" width="25.39" height="160.77" fill="#66aa4e"/>
<rect x="1168.11" y="789.66" width="25.39" height="98.68" fill="#2a4e8a"/>
<rect x="1168.11" y="712.25" width="25.39" height="77.71" fill="#9d4b23"/>
<rect x="1168.11" y="696.93" width="25.39" height="15.62" fill="#646566"/>
<rect x="1168.11" y="687.25" width="25.39" height="9.98" fill="#93702d"/>
<rect x="1168.11" y="645.32" width="25.39" height="42.23" fill="#24619a"/>
<rect x="1168.11" y="625.16" width="25.39" height="20.46" fill="#3d6534"/>
<rect x="1168.11" y="483.23" width="25.39" height="142.23" fill="#ec9060"/>
<rect x="1168.11" y="467.1" width="25.39" height="16.43" fill="#b2b3b4"/>
<rect x="1168.11" y="399.36" width="25.39" height="68.04" fill="#f9c53b"/>
<rect x="1168.11" y="394.53" width="25.39" height="5.14" fill="#6ea7d8"/>
<rect x="1168.11" y="389.69" width="25.39" height="5.14" fill="#7cb86e"/>
<rect x="1168.11" y="381.62" width="25.39" height="8.36" fill="#3463ab"/>
<rect x="1168.11" y="376.79" width="25.39" height="5.14" fill="#d8672d"/>
<rect x="1168.11" y="365.9" width="25.39" height="11.19" fill="#838384"/>
<rect x="1168.11" y="359.85" width="25.39" height="6.35" fill="#2a79bd"/>
<rect x="1168.11" y="353.4" width="25.39" height="6.75" fill="#7e9fcf"/>
<rect x="1193.2" y="1144.88" width="25.39" height="15.22" fill="#4170b3"/>
<rect x="1193.2" y="1138.83" width="25.39" height="6.35" fill="#a3a3a3"/>
<rect x="1193.2" y="1136.41" width="25.39" height="2.72" fill="#5595cf"/>
<rect x="1193.2" y="821.11" width="25.39" height="315.6" fill="#66aa4e"/>
<rect x="1193.2" y="814.66" width="25.39" height="6.75" fill="#2a4e8a"/>
<rect x="1193.2" y="804.18" width="25.39" height="10.78" fill="#9d4b23"/>
<rect x="1193.2" y="799.34" width="25.39" height="5.14" fill="#93702d"/>
<rect x="1193.2" y="708.22" width="25.39" height="91.42" fill="#24619a"/>
<rect x="1193.2" y="692.89" width="25.39" height="15.62" fill="#3d6534"/>
<rect x="1193.2" y="394.53" width="25.39" height="298.67" fill="#ec9060"/>
<rect x="1193.2" y="386.46" width="25.39" height="8.36" fill="#f9c53b"/>
<rect x="1193.2" y="379.2" width="25.39" height="7.56" fill="#7cb86e"/>
<rect x="1193.2" y="377.59" width="25.39" height="1.91" fill="#d8672d"/>
<rect x="1193.2" y="363.88" width="25.39" height="14.01" fill="#c99a33"/>
<rect x="1193.2" y="353.4" width="25.39" height="10.78" fill="#7e9fcf"/>
<rect x="1218.28" y="1111.42" width="25.39" height="48.68" fill="#ec7d35"/>
<rect x="1218.28" y="1091.26" width="25.39" height="20.46" fill="#a3a3a3"/>
<rect x="1218.28" y="1072.71" width="25.39" height="18.85" fill="#f8bc20"/>
<rect x="1218.28" y="933.2" width="25.39" height="139.81" fill="#5595cf"/>
<rect x="1218.28" y="904.17" width="25.39" height="29.33" fill="#66aa4e"/>
<rect x="1218.28" y="867.88" width="25.39" height="36.59" fill="#2a4e8a"/>
<rect x="1218.28" y="862.24" width="25.39" height="5.94" fill="#9d4b23"/>
<rect x="1218.28" y="809.82" width="25.39" height="52.72" fill="#646566"/>
<rect x="1218.28" y="777.57" width="25.39" height="32.56" fill="#93702d"/>
<rect x="1218.28" y="640.88" width="25.39" height="136.98" fill="#24619a"/>
<rect x="1218.28" y="636.04" width="25.39" height="5.14" fill="#6489c4"/>
<rect x="1218.28" y="628.38" width="25.39" height="7.96" fill="#ec9060"/>
<rect x="1218.28" y="559.03" width="25.39" height="69.65" fill="#f9c53b"/>
<rect x="1218.28" y="495.33" width="25.39" height="64.01" fill="#6ea7d8"/>
<rect x="1218.28" y="455.01" width="25.39" height="40.62" fill="#7cb86e"/>
<rect x="1218.28" y="443.72" width="25.39" height="11.59" fill="#3463ab"/>
<rect x="1218.28" y="412.27" width="25.39" height="31.75" fill="#d8672d"/>
<rect x="1218.28" y="399.36" width="25.39" height="13.2" fill="#838384"/>
<rect x="1218.28" y="386.46" width="25.39" height="13.2" fill="#c99a33"/>
<rect x="1218.28" y="353.4" width="25.39" height="33.36" fill="#2a79bd"/>
<rect x="1243.37" y="1135.2" width="25.39" height="24.9" fill="#ec7d35"/>
<rect x="1243.37" y="1122.71" width="25.39" height="12.8" fill="#a3a3a3"/>
<rect x="1243.37" y="1109" width="25.39" height="14.01" fill="#f8bc20"/>
<rect x="1243.37" y="1083.19" width="25.39" height="26.1" fill="#5595cf"/>
<rect x="1243.37" y="982.39" width="25.39" height="101.1" fill="#66aa4e"/>
<rect x="1243.37" y="875.14" width="25.39" height="107.55" fill="#2a4e8a"/>
<rect x="1243.37" y="843.69" width="25.39" height="31.75" fill="#646566"/>
<rect x="1243.37" y="775.95" width="25.39" height="68.04" fill="#93702d"/>
<rect x="1243.37" y="755.79" width="25.39" height="20.46" fill="#24619a"/>
<rect x="1243.37" y="692.89" width="25.39" height="63.2" fill="#3d6534"/>
<rect x="1243.37" y="642.09" width="25.39" height="51.1" fill="#6489c4"/>
<rect x="1243.37" y="625.16" width="25.39" height="17.23" fill="#ec9060"/>
<rect x="1243.37" y="619.51" width="25.39" height="5.94" fill="#7cb86e"/>
<rect x="1243.37" y="475.17" width="25.39" height="144.65" fill="#3463ab"/>
<rect x="1243.37" y="447.75" width="25.39" height="27.72" fill="#d8672d"/>
<rect x="1243.37" y="387.27" width="25.39" height="60.78" fill="#838384"/>
<rect x="1243.37" y="373.56" width="25.39" height="14.01" fill="#c99a33"/>
<rect x="1243.37" y="353.4" width="25.39" height="20.46" fill="#518c47"/>
<rect x="1268.46" y="1086.42" width="25.39" height="73.68" fill="#4170b3"/>
<rect x="1268.46" y="1078.35" width="25.39" height="8.36" fill="#ec7d35"/>
<rect x="1268.46" y="1066.26" width="25.39" height="12.4" fill="#a3a3a3"/>
<rect x="1268.46" y="924.33" width="25.39" height="142.23" fill="#f8bc20"/>
<rect x="1268.46" y="906.59" width="25.39" height="18.04" fill="#5595cf"/>
<rect x="1268.46" y="859.01" width="25.39" height="47.88" fill="#66aa4e"/>
<rect x="1268.46" y="833.21" width="25.39" height="26.1" fill="#2a4e8a"/>
<rect x="1268.46" y="729.18" width="25.39" height="104.33" fill="#646566"/>
<rect x="1268.46" y="663.86" width="25.39" height="65.62" fill="#93702d"/>
<rect x="1268.46" y="651.77" width="25.39" height="12.4" fill="#24619a"/>
<rect x="1268.46" y="640.88" width="25.39" height="11.19" fill="#3d6534"/>
<rect x="1268.46" y="621.93" width="25.39" height="19.25" fill="#ec9060"/>
<rect x="1268.46" y="609.84" width="25.39" height="12.4" fill="#b2b3b4"/>
<rect x="1268.46" y="597.74" width="25.39" height="12.4" fill="#6ea7d8"/>
<rect x="1268.46" y="515.89" width="25.39" height="82.15" fill="#7cb86e"/>
<rect x="1268.46" y="497.75" width="25.39" height="18.44" fill="#3463ab"/>
<rect x="1268.46" y="476.78" width="25.39" height="21.27" fill="#d8672d"/>
<rect x="1268.46" y="407.43" width="25.39" height="69.65" fill="#838384"/>
<rect x="1268.46" y="396.95" width="25.39" height="10.78" fill="#c99a33"/>
<rect x="1268.46" y="363.88" width="25.39" height="33.36" fill="#2a79bd"/>
<rect x="1268.46" y="359.04" width="25.39" height="5.14" fill="#518c47"/>
<rect x="1268.46" y="353.4" width="25.39" height="5.94" fill="#7e9fcf"/>
<rect x="1293.55" y="994.49" width="25.39" height="165.61" fill="#4170b3"/>
<rect x="1293.55" y="884.82" width="25.39" height="109.97" fill="#2a4e8a"/>
<rect x="1293.55" y="771.52" width="25.39" height="113.6" fill="#9d4b23"/>
<rect x="1293.55" y="493.71" width="25.39" height="278.1" fill="#24619a"/>
<rect x="1293.55" y="467.1" width="25.39" height="26.91" fill="#ec9060"/>
<rect x="1293.55" y="382.43" width="25.39" height="84.97" fill="#7cb86e"/>
<rect x="1293.55" y="353.4" width="25.39" height="29.33" fill="#c99a33"/>
<rect x="1318.64" y="398.56" width="25.39" height="761.54" fill="#ec7d35"/>
<rect x="1318.64" y="389.69" width="25.39" height="9.17" fill="#7cb86e"/>
<rect x="1318.64" y="363.88" width="25.39" height="26.1" fill="#3463ab"/>
<rect x="1318.64" y="359.85" width="25.39" height="4.33" fill="#7e9fcf"/>
<rect x="1318.64" y="357.43" width="25.39" height="2.72" fill="#d8672d"/>
<rect x="1318.64" y="353.4" width="25.39" height="4.33" fill="#518c47"/>
<rect x="1343.72" y="1108.19" width="25.39" height="51.91" fill="#a3a3a3"/>
<rect x="1343.72" y="1092.06" width="25.39" height="16.43" fill="#f8bc20"/>
<rect x="1343.72" y="1042.87" width="25.39" height="49.49" fill="#5595cf"/>
<rect x="1343.72" y="904.98" width="25.39" height="138.19" fill="#66aa4e"/>
<rect x="1343.72" y="875.14" width="25.39" height="30.14" fill="#2a4e8a"/>
<rect x="1343.72" y="863.85" width="25.39" height="11.59" fill="#646566"/>
<rect x="1343.72" y="828.37" width="25.39" height="35.78" fill="#93702d"/>
<rect x="1343.72" y="815.47" width="25.39" height="13.2" fill="#24619a"/>
<rect x="1343.72" y="796.52" width="25.39" height="19.25" fill="#3d6534"/>
<rect x="1343.72" y="790.47" width="25.39" height="6.35" fill="#6489c4"/>
<rect x="1343.72" y="779.99" width="25.39" height="10.78" fill="#ec9060"/>
<rect x="1343.72" y="766.68" width="25.39" height="13.61" fill="#b2b3b4"/>
<rect x="1343.72" y="706.2" width="25.39" height="60.78" fill="#6ea7d8"/>
<rect x="1343.72" y="599.35" width="25.39" height="107.15" fill="#3463ab"/>
<rect x="1343.72" y="407.43" width="25.39" height="192.22" fill="#c99a33"/>
<rect x="1343.72" y="371.95" width="25.39" height="35.78" fill="#518c47"/>
<rect x="1343.72" y="353.4" width="25.39" height="18.85" fill="#7e9fcf"/>
<rect x="1368.81" y="699.35" width="25.39" height="460.75" fill="#4170b3"/>
<rect x="1368.81" y="692.09" width="25.39" height="7.56" fill="#5595cf"/>
<rect x="1368.81" y="675.15" width="25.39" height="17.23" fill="#2a4e8a"/>
<rect x="1368.81" y="668.7" width="25.39" height="6.75" fill="#646566"/>
<rect x="1368.81" y="643.7" width="25.39" height="25.3" fill="#24619a"/>
<rect x="1368.81" y="556.21" width="25.39" height="87.79" fill="#3d6534"/>
<rect x="1368.81" y="543.71" width="25.39" height="12.8" fill="#6489c4"/>
<rect x="1368.81" y="530" width="25.39" height="14.01" fill="#ec9060"/>
<rect x="1368.81" y="512.26" width="25.39" height="18.04" fill="#b2b3b4"/>
<rect x="1368.81" y="505" width="25.39" height="7.56" fill="#6ea7d8"/>
<rect x="1368.81" y="424.36" width="25.39" height="80.94" fill="#3463ab"/>
<rect x="1368.81" y="403.4" width="25.39" height="21.27" fill="#d8672d"/>
<rect x="1368.81" y="397.75" width="25.39" height="5.94" fill="#838384"/>
<rect x="1368.81" y="390.9" width="25.39" height="7.15" fill="#2a79bd"/>
<rect x="1368.81" y="359.85" width="25.39" height="31.35" fill="#518c47"/>
<rect x="1368.81" y="353.4" width="25.39" height="6.75" fill="#7e9fcf"/>
</g>
<text x="103.6" y="1174.9" text-anchor="end" textLength="50" lengthAdjust="spacingAndGlyphs" class="tk">0%</text>
<text x="103.6" y="1094.1" text-anchor="end" textLength="69" lengthAdjust="spacingAndGlyphs" class="tk">10%</text>
<text x="103.6" y="1013.3" text-anchor="end" textLength="69" lengthAdjust="spacingAndGlyphs" class="tk">20%</text>
<text x="103.6" y="932.5" text-anchor="end" textLength="69" lengthAdjust="spacingAndGlyphs" class="tk">30%</text>
<text x="103.6" y="851.7" text-anchor="end" textLength="69" lengthAdjust="spacingAndGlyphs" class="tk">40%</text>
<text x="103.6" y="770.9" text-anchor="end" textLength="69" lengthAdjust="spacingAndGlyphs" class="tk">50%</text>
<text x="103.6" y="690.1" text-anchor="end" textLength="69" lengthAdjust="spacingAndGlyphs" class="tk">60%</text>
<text x="103.6" y="609.3" text-anchor="end" textLength="69" lengthAdjust="spacingAndGlyphs" class="tk">70%</text>
<text x="103.6" y="528.5" text-anchor="end" textLength="69" lengthAdjust="spacingAndGlyphs" class="tk">80%</text>
<text x="103.6" y="447.7" text-anchor="end" textLength="69" lengthAdjust="spacingAndGlyphs" class="tk">90%</text>
<text x="103.6" y="366.9" text-anchor="end" textLength="90" lengthAdjust="spacingAndGlyphs" class="tk">100%</text>
<text transform="translate(165.74 1185.3) rotate(-90)" text-anchor="end" textLength="41.5" lengthAdjust="spacingAndGlyphs" class="xt">22</text>
<text transform="translate(215.92 1185.3) rotate(-90)" text-anchor="end" textLength="41.5" lengthAdjust="spacingAndGlyphs" class="xt">35</text>
<text transform="translate(266.1 1185.3) rotate(-90)" text-anchor="end" textLength="41.5" lengthAdjust="spacingAndGlyphs" class="xt">56</text>
<text transform="translate(316.27 1185.3) rotate(-90)" text-anchor="end" textLength="60.5" lengthAdjust="spacingAndGlyphs" class="xt">100</text>
<text transform="translate(366.45 1185.3) rotate(-90)" text-anchor="end" textLength="60.5" lengthAdjust="spacingAndGlyphs" class="xt">147</text>
<text transform="translate(416.62 1185.3) rotate(-90)" text-anchor="end" textLength="60.5" lengthAdjust="spacingAndGlyphs" class="xt">160</text>
<text transform="translate(466.8 1185.3) rotate(-90)" text-anchor="end" textLength="60.5" lengthAdjust="spacingAndGlyphs" class="xt">166</text>
<text transform="translate(516.98 1185.3) rotate(-90)" text-anchor="end" textLength="60.5" lengthAdjust="spacingAndGlyphs" class="xt">214</text>
<text transform="translate(567.15 1185.3) rotate(-90)" text-anchor="end" textLength="60.5" lengthAdjust="spacingAndGlyphs" class="xt">228</text>
<text transform="translate(617.33 1185.3) rotate(-90)" text-anchor="end" textLength="60.5" lengthAdjust="spacingAndGlyphs" class="xt">245</text>
<text transform="translate(667.5 1185.3) rotate(-90)" text-anchor="end" textLength="60.5" lengthAdjust="spacingAndGlyphs" class="xt">279</text>
<text transform="translate(717.68 1185.3) rotate(-90)" text-anchor="end" textLength="60.5" lengthAdjust="spacingAndGlyphs" class="xt">308</text>
<text transform="translate(767.86 1185.3) rotate(-90)" text-anchor="end" textLength="60.5" lengthAdjust="spacingAndGlyphs" class="xt">329</text>
<text transform="translate(818.03 1185.3) rotate(-90)" text-anchor="end" textLength="60.5" lengthAdjust="spacingAndGlyphs" class="xt">333</text>
<text transform="translate(868.21 1185.3) rotate(-90)" text-anchor="end" textLength="60.5" lengthAdjust="spacingAndGlyphs" class="xt">356</text>
<text transform="translate(918.38 1185.3) rotate(-90)" text-anchor="end" textLength="60.5" lengthAdjust="spacingAndGlyphs" class="xt">374</text>
<text transform="translate(968.56 1185.3) rotate(-90)" text-anchor="end" textLength="60.5" lengthAdjust="spacingAndGlyphs" class="xt">382</text>
<text transform="translate(1018.74 1185.3) rotate(-90)" text-anchor="end" textLength="60.5" lengthAdjust="spacingAndGlyphs" class="xt">431</text>
<text transform="translate(1068.91 1185.3) rotate(-90)" text-anchor="end" textLength="60.5" lengthAdjust="spacingAndGlyphs" class="xt">441</text>
<text transform="translate(1119.09 1185.3) rotate(-90)" text-anchor="end" textLength="60.5" lengthAdjust="spacingAndGlyphs" class="xt">463</text>
<text transform="translate(1169.26 1185.3) rotate(-90)" text-anchor="end" textLength="60.5" lengthAdjust="spacingAndGlyphs" class="xt">476</text>
<text transform="translate(1219.44 1185.3) rotate(-90)" text-anchor="end" textLength="60.5" lengthAdjust="spacingAndGlyphs" class="xt">511</text>
<text transform="translate(1269.62 1185.3) rotate(-90)" text-anchor="end" textLength="60.5" lengthAdjust="spacingAndGlyphs" class="xt">549</text>
<text transform="translate(1319.79 1185.3) rotate(-90)" text-anchor="end" textLength="60.5" lengthAdjust="spacingAndGlyphs" class="xt">567</text>
<text transform="translate(1369.97 1185.3) rotate(-90)" text-anchor="end" textLength="60.5" lengthAdjust="spacingAndGlyphs" class="xt">594</text>
<text x="727.5" y="1308.2" textLength="201.5" lengthAdjust="spacingAndGlyphs" class="ax">Age (days)</text>
<rect x="139.1" y="1543.5" width="1252.7" height="3.2" fill="#cdcfd0"/>
<rect x="139.1" y="1624.5" width="1252.7" height="3.2" fill="#cdcfd0"/>
<rect x="139.1" y="1708.1" width="1252.7" height="3.2" fill="#cdcfd0"/>
<rect x="139.1" y="1789.3" width="1252.7" height="3.2" fill="#cdcfd0"/>
<rect x="139.1" y="1871.4" width="1252.7" height="3.2" fill="#cdcfd0"/>
<rect x="139.1" y="1953" width="1252.7" height="3.2" fill="#cdcfd0"/>
<rect x="139.1" y="2033.3" width="1252.7" height="3.2" fill="#cdcfd0"/>
<rect x="139.1" y="2114.5" width="1252.7" height="3.2" fill="#cdcfd0"/>
<rect x="139.1" y="2196.3" width="1252.7" height="3.2" fill="#cdcfd0"/>
<rect x="139.1" y="2277" width="1252.7" height="3.2" fill="#cdcfd0"/>
<rect x="139.1" y="2359.2" width="1252.7" height="3.2" fill="#cdcfd0"/>
<g class="b">
<rect x="139.1" y="1818.04" width="25.35" height="541.26" fill="#ec9060"/>
<rect x="139.1" y="1544.3" width="25.35" height="274.04" fill="#7e9fcf"/>
<rect x="189.21" y="2356.56" width="25.35" height="2.74" fill="#ec7d35"/>
<rect x="189.21" y="1571.19" width="25.35" height="785.67" fill="#a3a3a3"/>
<rect x="189.21" y="1562.22" width="25.35" height="9.26" fill="#b2b3b4"/>
<rect x="189.21" y="1558.96" width="25.35" height="3.56" fill="#518c47"/>
<rect x="189.21" y="1550" width="25.35" height="9.26" fill="#838384"/>
<rect x="189.21" y="1544.3" width="25.35" height="6" fill="#c99a33"/>
<rect x="214.26" y="1570.37" width="25.35" height="788.93" fill="#a3a3a3"/>
<rect x="214.26" y="1544.3" width="25.35" height="26.37" fill="#66aa4e"/>
<rect x="239.32" y="1797.67" width="25.35" height="561.63" fill="#2a4e8a"/>
<rect x="239.32" y="1544.3" width="25.35" height="253.67" fill="#93702d"/>
<rect x="289.42" y="2022.12" width="25.35" height="337.18" fill="#f8bc20"/>
<rect x="289.42" y="1944.32" width="25.35" height="78.1" fill="#93702d"/>
<rect x="289.42" y="1880.77" width="25.35" height="63.85" fill="#3d6534"/>
<rect x="289.42" y="1866.11" width="25.35" height="14.96" fill="#6489c4"/>
<rect x="289.42" y="1578.52" width="25.35" height="287.89" fill="#3463ab"/>
<rect x="289.42" y="1544.3" width="25.35" height="34.52" fill="#2a79bd"/>
<rect x="314.48" y="2187.1" width="25.35" height="172.2" fill="#ec7d35"/>
<rect x="314.48" y="1939.43" width="25.35" height="247.97" fill="#f8bc20"/>
<rect x="314.48" y="1843.29" width="25.35" height="96.43" fill="#5595cf"/>
<rect x="314.48" y="1793.6" width="25.35" height="50" fill="#9d4b23"/>
<rect x="314.48" y="1767.94" width="25.35" height="25.96" fill="#ec9060"/>
<rect x="314.48" y="1717.83" width="25.35" height="50.4" fill="#7cb86e"/>
<rect x="314.48" y="1544.3" width="25.35" height="173.83" fill="#d8672d"/>
<rect x="364.59" y="2046.16" width="25.35" height="313.14" fill="#5595cf"/>
<rect x="364.59" y="1544.3" width="25.35" height="502.16" fill="#66aa4e"/>
<rect x="389.64" y="2302.79" width="25.35" height="56.51" fill="#a3a3a3"/>
<rect x="389.64" y="2218.06" width="25.35" height="85.03" fill="#f8bc20"/>
<rect x="389.64" y="1798.49" width="25.35" height="419.87" fill="#5595cf"/>
<rect x="389.64" y="1744.72" width="25.35" height="54.07" fill="#24619a"/>
<rect x="389.64" y="1574.44" width="25.35" height="170.57" fill="#3463ab"/>
<rect x="389.64" y="1544.3" width="25.35" height="30.44" fill="#2a79bd"/>
<rect x="464.8" y="2254.72" width="25.35" height="104.58" fill="#f8bc20"/>
<rect x="464.8" y="2124.37" width="25.35" height="130.65" fill="#5595cf"/>
<rect x="464.8" y="2095.85" width="25.35" height="28.81" fill="#66aa4e"/>
<rect x="464.8" y="2071.41" width="25.35" height="24.74" fill="#6489c4"/>
<rect x="464.8" y="1963.87" width="25.35" height="107.84" fill="#6ea7d8"/>
<rect x="464.8" y="1942.69" width="25.35" height="21.48" fill="#7cb86e"/>
<rect x="464.8" y="1862.03" width="25.35" height="80.96" fill="#d8672d"/>
<rect x="464.8" y="1783.01" width="25.35" height="79.33" fill="#838384"/>
<rect x="464.8" y="1599.7" width="25.35" height="183.61" fill="#2a79bd"/>
<rect x="464.8" y="1544.3" width="25.35" height="55.7" fill="#7e9fcf"/>
<rect x="489.86" y="2033.93" width="25.35" height="325.37" fill="#5595cf"/>
<rect x="489.86" y="1544.3" width="25.35" height="489.93" fill="#3463ab"/>
<rect x="514.91" y="2331.3" width="25.35" height="28" fill="#ec7d35"/>
<rect x="514.91" y="2238.42" width="25.35" height="93.18" fill="#66aa4e"/>
<rect x="514.91" y="2059.19" width="25.35" height="179.53" fill="#2a4e8a"/>
<rect x="514.91" y="1966.31" width="25.35" height="93.18" fill="#9d4b23"/>
<rect x="514.91" y="1947.82" width="25.35" height="18.79" fill="#24619a"/>
<rect x="514.91" y="1696.65" width="25.35" height="251.47" fill="#3463ab"/>
<rect x="514.91" y="1665.69" width="25.35" height="31.26" fill="#d8672d"/>
<rect x="514.91" y="1544.3" width="25.35" height="121.69" fill="#2a79bd"/>
<rect x="539.96" y="2117.03" width="25.35" height="242.27" fill="#4170b3"/>
<rect x="539.96" y="2005.42" width="25.35" height="111.91" fill="#f8bc20"/>
<rect x="539.96" y="1979.35" width="25.35" height="26.37" fill="#5595cf"/>
<rect x="539.96" y="1812.34" width="25.35" height="167.31" fill="#66aa4e"/>
<rect x="539.96" y="1724.35" width="25.35" height="88.29" fill="#9d4b23"/>
<rect x="539.96" y="1713.76" width="25.35" height="10.89" fill="#646566"/>
<rect x="539.96" y="1607.85" width="25.35" height="106.21" fill="#b2b3b4"/>
<rect x="539.96" y="1603.37" width="25.35" height="4.78" fill="#7cb86e"/>
<rect x="539.96" y="1598.88" width="25.35" height="4.78" fill="#838384"/>
<rect x="539.96" y="1544.3" width="25.35" height="54.88" fill="#518c47"/>
<rect x="565.02" y="2258.79" width="25.35" height="100.51" fill="#5595cf"/>
<rect x="565.02" y="2156.14" width="25.35" height="102.95" fill="#9d4b23"/>
<rect x="565.02" y="2055.12" width="25.35" height="101.32" fill="#24619a"/>
<rect x="565.02" y="1750.42" width="25.35" height="305" fill="#838384"/>
<rect x="565.02" y="1544.3" width="25.35" height="206.42" fill="#c99a33"/>
<rect x="590.07" y="2244.13" width="25.35" height="115.17" fill="#4170b3"/>
<rect x="590.07" y="2146.36" width="25.35" height="98.06" fill="#a3a3a3"/>
<rect x="590.07" y="2029.05" width="25.35" height="117.62" fill="#f8bc20"/>
<rect x="590.07" y="1971.2" width="25.35" height="58.14" fill="#5595cf"/>
<rect x="590.07" y="1721.09" width="25.35" height="250.41" fill="#93702d"/>
<rect x="590.07" y="1702.35" width="25.35" height="19.04" fill="#b2b3b4"/>
<rect x="590.07" y="1681.17" width="25.35" height="21.48" fill="#7cb86e"/>
<rect x="590.07" y="1544.3" width="25.35" height="137.17" fill="#d8672d"/>
<rect x="615.13" y="2178.95" width="25.35" height="180.35" fill="#4170b3"/>
<rect x="615.13" y="2139.85" width="25.35" height="39.41" fill="#66aa4e"/>
<rect x="615.13" y="1875.07" width="25.35" height="265.08" fill="#2a4e8a"/>
<rect x="615.13" y="1690.95" width="25.35" height="184.42" fill="#93702d"/>
<rect x="615.13" y="1583.41" width="25.35" height="107.84" fill="#b2b3b4"/>
<rect x="615.13" y="1557.34" width="25.35" height="26.37" fill="#d8672d"/>
<rect x="615.13" y="1544.3" width="25.35" height="13.34" fill="#7e9fcf"/>
<rect x="640.18" y="2350.85" width="25.35" height="8.45" fill="#4170b3"/>
<rect x="640.18" y="2342.71" width="25.35" height="8.45" fill="#ec7d35"/>
<rect x="640.18" y="2332.93" width="25.35" height="10.08" fill="#a3a3a3"/>
<rect x="640.18" y="1583.41" width="25.35" height="749.82" fill="#2a4e8a"/>
<rect x="640.18" y="1571.59" width="25.35" height="12.11" fill="#24619a"/>
<rect x="640.18" y="1556.52" width="25.35" height="15.37" fill="#3d6534"/>
<rect x="640.18" y="1544.3" width="25.35" height="12.52" fill="#b2b3b4"/>
<rect x="665.23" y="2253.09" width="25.35" height="106.21" fill="#ec7d35"/>
<rect x="665.23" y="2218.06" width="25.35" height="35.33" fill="#a3a3a3"/>
<rect x="665.23" y="2109.7" width="25.35" height="108.66" fill="#66aa4e"/>
<rect x="665.23" y="1829.44" width="25.35" height="280.56" fill="#9d4b23"/>
<rect x="665.23" y="1792.78" width="25.35" height="36.96" fill="#d8672d"/>
<rect x="665.23" y="1651.43" width="25.35" height="141.65" fill="#838384"/>
<rect x="665.23" y="1544.3" width="25.35" height="107.43" fill="#c99a33"/>
<rect x="690.29" y="2269.38" width="25.35" height="89.92" fill="#a3a3a3"/>
<rect x="690.29" y="1544.3" width="25.35" height="725.38" fill="#93702d"/>
<rect x="715.34" y="2345.56" width="25.35" height="13.74" fill="#4170b3"/>
<rect x="715.34" y="1864.48" width="25.35" height="481.38" fill="#ec7d35"/>
<rect x="715.34" y="1822.93" width="25.35" height="41.85" fill="#f8bc20"/>
<rect x="715.34" y="1796.04" width="25.35" height="27.19" fill="#5595cf"/>
<rect x="715.34" y="1774.86" width="25.35" height="21.48" fill="#66aa4e"/>
<rect x="715.34" y="1760.2" width="25.35" height="14.96" fill="#646566"/>
<rect x="715.34" y="1753.68" width="25.35" height="6.82" fill="#93702d"/>
<rect x="715.34" y="1746.75" width="25.35" height="7.22" fill="#24619a"/>
<rect x="715.34" y="1717.83" width="25.35" height="29.22" fill="#3d6534"/>
<rect x="715.34" y="1664.06" width="25.35" height="54.07" fill="#ec9060"/>
<rect x="715.34" y="1643.69" width="25.35" height="20.67" fill="#b2b3b4"/>
<rect x="715.34" y="1607.85" width="25.35" height="36.15" fill="#7cb86e"/>
<rect x="715.34" y="1544.3" width="25.35" height="63.85" fill="#d8672d"/>
<rect x="740.4" y="2069.78" width="25.35" height="289.52" fill="#4170b3"/>
<rect x="740.4" y="2046.16" width="25.35" height="23.93" fill="#ec7d35"/>
<rect x="740.4" y="2033.93" width="25.35" height="12.52" fill="#f8bc20"/>
<rect x="740.4" y="2010.31" width="25.35" height="23.93" fill="#66aa4e"/>
<rect x="740.4" y="1998.9" width="25.35" height="11.71" fill="#93702d"/>
<rect x="740.4" y="1908.47" width="25.35" height="90.73" fill="#3d6534"/>
<rect x="740.4" y="1567.93" width="25.35" height="340.84" fill="#6489c4"/>
<rect x="740.4" y="1558.15" width="25.35" height="10.08" fill="#ec9060"/>
<rect x="740.4" y="1544.3" width="25.35" height="14.15" fill="#838384"/>
<rect x="765.45" y="2207.47" width="25.35" height="151.83" fill="#4170b3"/>
<rect x="765.45" y="2196.87" width="25.35" height="10.89" fill="#ec7d35"/>
<rect x="765.45" y="2177.32" width="25.35" height="19.85" fill="#f8bc20"/>
<rect x="765.45" y="2096.67" width="25.35" height="80.96" fill="#5595cf"/>
<rect x="765.45" y="2033.93" width="25.35" height="63.03" fill="#9d4b23"/>
<rect x="765.45" y="1934.54" width="25.35" height="99.69" fill="#93702d"/>
<rect x="765.45" y="1926.39" width="25.35" height="8.45" fill="#24619a"/>
<rect x="765.45" y="1917.03" width="25.35" height="9.67" fill="#6489c4"/>
<rect x="765.45" y="1835.15" width="25.35" height="82.18" fill="#ec9060"/>
<rect x="765.45" y="1690.13" width="25.35" height="145.32" fill="#f9c53b"/>
<rect x="765.45" y="1646.54" width="25.35" height="43.89" fill="#6ea7d8"/>
<rect x="765.45" y="1609.07" width="25.35" height="37.78" fill="#7cb86e"/>
<rect x="765.45" y="1563.85" width="25.35" height="45.52" fill="#3463ab"/>
<rect x="765.45" y="1544.3" width="25.35" height="19.85" fill="#2a79bd"/>
<rect x="790.5" y="2192.8" width="25.35" height="166.5" fill="#ec7d35"/>
<rect x="790.5" y="2166.73" width="25.35" height="26.37" fill="#a3a3a3"/>
<rect x="790.5" y="2118.66" width="25.35" height="48.37" fill="#5595cf"/>
<rect x="790.5" y="2095.85" width="25.35" height="23.11" fill="#9d4b23"/>
<rect x="790.5" y="2072.23" width="25.35" height="23.93" fill="#646566"/>
<rect x="790.5" y="1761.82" width="25.35" height="310.7" fill="#93702d"/>
<rect x="790.5" y="1737.38" width="25.35" height="24.74" fill="#24619a"/>
<rect x="790.5" y="1689.32" width="25.35" height="48.37" fill="#ec9060"/>
<rect x="790.5" y="1594" width="25.35" height="95.62" fill="#b2b3b4"/>
<rect x="790.5" y="1569.56" width="25.35" height="24.74" fill="#7cb86e"/>
<rect x="790.5" y="1544.3" width="25.35" height="25.56" fill="#d8672d"/>
<rect x="815.56" y="1817.22" width="25.35" height="542.08" fill="#4170b3"/>
<rect x="815.56" y="1544.3" width="25.35" height="273.22" fill="#646566"/>
<rect x="840.61" y="2282.83" width="25.35" height="76.47" fill="#a3a3a3"/>
<rect x="840.61" y="2233.54" width="25.35" height="49.59" fill="#f8bc20"/>
<rect x="840.61" y="2134.96" width="25.35" height="98.88" fill="#5595cf"/>
<rect x="840.61" y="1779.75" width="25.35" height="355.51" fill="#646566"/>
<rect x="840.61" y="1749.6" width="25.35" height="30.44" fill="#93702d"/>
<rect x="840.61" y="1721.09" width="25.35" height="28.81" fill="#24619a"/>
<rect x="840.61" y="1671.39" width="25.35" height="50" fill="#7cb86e"/>
<rect x="840.61" y="1544.3" width="25.35" height="127.39" fill="#3463ab"/>
<rect x="865.67" y="2336.19" width="25.35" height="23.11" fill="#ec7d35"/>
<rect x="865.67" y="2306.86" width="25.35" height="29.63" fill="#f8bc20"/>
<rect x="865.67" y="2282.83" width="25.35" height="24.33" fill="#5595cf"/>
<rect x="865.67" y="2202.58" width="25.35" height="80.55" fill="#66aa4e"/>
<rect x="865.67" y="2176.51" width="25.35" height="26.37" fill="#646566"/>
<rect x="865.67" y="2147.99" width="25.35" height="28.81" fill="#93702d"/>
<rect x="865.67" y="1963.87" width="25.35" height="184.42" fill="#3d6534"/>
<rect x="865.67" y="1650.21" width="25.35" height="313.96" fill="#ec9060"/>
<rect x="865.67" y="1624.14" width="25.35" height="26.37" fill="#b2b3b4"/>
<rect x="865.67" y="1598.48" width="25.35" height="25.96" fill="#3463ab"/>
<rect x="865.67" y="1544.3" width="25.35" height="54.48" fill="#838384"/>
<rect x="890.72" y="2198.5" width="25.35" height="160.8" fill="#f8bc20"/>
<rect x="890.72" y="2134.14" width="25.35" height="64.66" fill="#5595cf"/>
<rect x="890.72" y="2005.42" width="25.35" height="129.02" fill="#66aa4e"/>
<rect x="890.72" y="1952.46" width="25.35" height="53.26" fill="#9d4b23"/>
<rect x="890.72" y="1890.14" width="25.35" height="62.62" fill="#646566"/>
<rect x="890.72" y="1878.33" width="25.35" height="12.11" fill="#93702d"/>
<rect x="890.72" y="1868.96" width="25.35" height="9.67" fill="#24619a"/>
<rect x="890.72" y="1783.01" width="25.35" height="86.25" fill="#3d6534"/>
<rect x="890.72" y="1567.93" width="25.35" height="215.38" fill="#ec9060"/>
<rect x="890.72" y="1555.3" width="25.35" height="12.93" fill="#d8672d"/>
<rect x="890.72" y="1544.3" width="25.35" height="11.3" fill="#838384"/>
<rect x="915.77" y="2343.52" width="25.35" height="15.78" fill="#a3a3a3"/>
<rect x="915.77" y="2307.67" width="25.35" height="36.15" fill="#5595cf"/>
<rect x="915.77" y="1967.94" width="25.35" height="340.03" fill="#646566"/>
<rect x="915.77" y="1722.72" width="25.35" height="245.52" fill="#24619a"/>
<rect x="915.77" y="1688.09" width="25.35" height="34.92" fill="#3d6534"/>
<rect x="915.77" y="1651.43" width="25.35" height="36.96" fill="#ec9060"/>
<rect x="915.77" y="1544.3" width="25.35" height="107.43" fill="#7cb86e"/>
<rect x="940.83" y="2033.12" width="25.35" height="326.18" fill="#a3a3a3"/>
<rect x="940.83" y="1872.62" width="25.35" height="160.8" fill="#5595cf"/>
<rect x="940.83" y="1708.87" width="25.35" height="164.05" fill="#b2b3b4"/>
<rect x="940.83" y="1544.3" width="25.35" height="164.87" fill="#838384"/>
<rect x="965.88" y="2187.91" width="25.35" height="171.39" fill="#4170b3"/>
<rect x="965.88" y="2068.15" width="25.35" height="120.06" fill="#ec7d35"/>
<rect x="965.88" y="2063.67" width="25.35" height="4.78" fill="#a3a3a3"/>
<rect x="965.88" y="2056.75" width="25.35" height="7.22" fill="#5595cf"/>
<rect x="965.88" y="2041.27" width="25.35" height="15.78" fill="#66aa4e"/>
<rect x="965.88" y="2027.01" width="25.35" height="14.56" fill="#2a4e8a"/>
<rect x="965.88" y="1938.61" width="25.35" height="88.69" fill="#9d4b23"/>
<rect x="965.88" y="1925.58" width="25.35" height="13.34" fill="#93702d"/>
<rect x="965.88" y="1897.88" width="25.35" height="28" fill="#3d6534"/>
<rect x="965.88" y="1855.52" width="25.35" height="42.66" fill="#6489c4"/>
<rect x="965.88" y="1843.29" width="25.35" height="12.52" fill="#ec9060"/>
<rect x="965.88" y="1816.41" width="25.35" height="27.19" fill="#b2b3b4"/>
<rect x="965.88" y="1787.08" width="25.35" height="29.63" fill="#d8672d"/>
<rect x="965.88" y="1774.86" width="25.35" height="12.52" fill="#838384"/>
<rect x="965.88" y="1544.3" width="25.35" height="230.86" fill="#c99a33"/>
<rect x="990.94" y="2251.87" width="25.35" height="107.43" fill="#4170b3"/>
<rect x="990.94" y="2245.76" width="25.35" height="6.41" fill="#ec7d35"/>
<rect x="990.94" y="2230.68" width="25.35" height="15.37" fill="#5595cf"/>
<rect x="990.94" y="2222.13" width="25.35" height="8.85" fill="#66aa4e"/>
<rect x="990.94" y="2148.81" width="25.35" height="73.62" fill="#9d4b23"/>
<rect x="990.94" y="2081.19" width="25.35" height="67.92" fill="#646566"/>
<rect x="990.94" y="2077.11" width="25.35" height="4.37" fill="#93702d"/>
<rect x="990.94" y="1888.92" width="25.35" height="188.5" fill="#24619a"/>
<rect x="990.94" y="1884.44" width="25.35" height="4.78" fill="#3d6534"/>
<rect x="990.94" y="1878.73" width="25.35" height="6" fill="#6489c4"/>
<rect x="990.94" y="1875.07" width="25.35" height="3.97" fill="#ec9060"/>
<rect x="990.94" y="1868.96" width="25.35" height="6.41" fill="#f9c53b"/>
<rect x="990.94" y="1683.21" width="25.35" height="186.05" fill="#6ea7d8"/>
<rect x="990.94" y="1580.15" width="25.35" height="103.36" fill="#7cb86e"/>
<rect x="990.94" y="1549.19" width="25.35" height="31.26" fill="#838384"/>
<rect x="990.94" y="1544.3" width="25.35" height="5.19" fill="#2a79bd"/>
<rect x="1015.99" y="2336.19" width="25.35" height="23.11" fill="#a3a3a3"/>
<rect x="1015.99" y="2123.55" width="25.35" height="212.94" fill="#f8bc20"/>
<rect x="1015.99" y="2072.23" width="25.35" height="51.63" fill="#646566"/>
<rect x="1015.99" y="1704.39" width="25.35" height="368.14" fill="#24619a"/>
<rect x="1015.99" y="1600.51" width="25.35" height="104.17" fill="#b2b3b4"/>
<rect x="1015.99" y="1571.59" width="25.35" height="29.22" fill="#d8672d"/>
<rect x="1015.99" y="1544.3" width="25.35" height="27.59" fill="#2a79bd"/>
<rect x="1041.04" y="2203.39" width="25.35" height="155.91" fill="#ec7d35"/>
<rect x="1041.04" y="2169.17" width="25.35" height="34.52" fill="#f8bc20"/>
<rect x="1041.04" y="2159.4" width="25.35" height="10.08" fill="#5595cf"/>
<rect x="1041.04" y="2147.59" width="25.35" height="12.11" fill="#646566"/>
<rect x="1041.04" y="2125.18" width="25.35" height="22.7" fill="#24619a"/>
<rect x="1041.04" y="2058.78" width="25.35" height="66.7" fill="#3d6534"/>
<rect x="1041.04" y="1557.34" width="25.35" height="501.75" fill="#f9c53b"/>
<rect x="1041.04" y="1544.3" width="25.35" height="13.34" fill="#838384"/>
<rect x="1066.1" y="2196.87" width="25.35" height="162.43" fill="#f8bc20"/>
<rect x="1066.1" y="1791.97" width="25.35" height="405.21" fill="#66aa4e"/>
<rect x="1066.1" y="1708.87" width="25.35" height="83.4" fill="#ec9060"/>
<rect x="1066.1" y="1627.4" width="25.35" height="81.77" fill="#838384"/>
<rect x="1066.1" y="1544.3" width="25.35" height="83.4" fill="#7e9fcf"/>
<rect x="1091.15" y="2279.16" width="25.35" height="80.14" fill="#f8bc20"/>
<rect x="1091.15" y="2196.87" width="25.35" height="82.58" fill="#5595cf"/>
<rect x="1091.15" y="1873.44" width="25.35" height="323.74" fill="#66aa4e"/>
<rect x="1091.15" y="1708.87" width="25.35" height="164.87" fill="#ec9060"/>
<rect x="1091.15" y="1544.3" width="25.35" height="164.87" fill="#d8672d"/>
<rect x="1116.21" y="2288.94" width="25.35" height="70.36" fill="#4170b3"/>
<rect x="1116.21" y="2280.79" width="25.35" height="8.45" fill="#ec7d35"/>
<rect x="1116.21" y="2262.46" width="25.35" height="18.63" fill="#f8bc20"/>
<rect x="1116.21" y="1813.97" width="25.35" height="448.79" fill="#5595cf"/>
<rect x="1116.21" y="1796.86" width="25.35" height="17.41" fill="#646566"/>
<rect x="1116.21" y="1770.79" width="25.35" height="26.37" fill="#24619a"/>
<rect x="1116.21" y="1734.94" width="25.35" height="36.15" fill="#ec9060"/>
<rect x="1116.21" y="1724.35" width="25.35" height="10.89" fill="#b2b3b4"/>
<rect x="1116.21" y="1563.85" width="25.35" height="160.8" fill="#f9c53b"/>
<rect x="1116.21" y="1554.08" width="25.35" height="10.08" fill="#6ea7d8"/>
<rect x="1116.21" y="1544.3" width="25.35" height="10.08" fill="#c99a33"/>
<rect x="1141.26" y="2328.86" width="25.35" height="30.44" fill="#4170b3"/>
<rect x="1141.26" y="2295.45" width="25.35" height="33.7" fill="#ec7d35"/>
<rect x="1141.26" y="2261.24" width="25.35" height="34.52" fill="#66aa4e"/>
<rect x="1141.26" y="2230.28" width="25.35" height="31.26" fill="#646566"/>
<rect x="1141.26" y="2098.3" width="25.35" height="132.28" fill="#24619a"/>
<rect x="1141.26" y="1676.28" width="25.35" height="422.31" fill="#6489c4"/>
<rect x="1141.26" y="1611.92" width="25.35" height="64.66" fill="#3463ab"/>
<rect x="1141.26" y="1579.33" width="25.35" height="32.89" fill="#838384"/>
<rect x="1141.26" y="1544.3" width="25.35" height="35.33" fill="#7e9fcf"/>
<rect x="1166.31" y="2346.78" width="25.35" height="12.52" fill="#4170b3"/>
<rect x="1166.31" y="2269.38" width="25.35" height="77.7" fill="#ec7d35"/>
<rect x="1166.31" y="2257.98" width="25.35" height="11.71" fill="#a3a3a3"/>
<rect x="1166.31" y="2230.28" width="25.35" height="28" fill="#f8bc20"/>
<rect x="1166.31" y="2218.06" width="25.35" height="12.52" fill="#5595cf"/>
<rect x="1166.31" y="2035.56" width="25.35" height="182.79" fill="#2a4e8a"/>
<rect x="1166.31" y="1908.47" width="25.35" height="127.39" fill="#9d4b23"/>
<rect x="1166.31" y="1842.89" width="25.35" height="65.88" fill="#93702d"/>
<rect x="1166.31" y="1818.85" width="25.35" height="24.33" fill="#3d6534"/>
<rect x="1166.31" y="1791.15" width="25.35" height="28" fill="#ec9060"/>
<rect x="1166.31" y="1765.08" width="25.35" height="26.37" fill="#d8672d"/>
<rect x="1166.31" y="1624.14" width="25.35" height="141.24" fill="#838384"/>
<rect x="1166.31" y="1544.3" width="25.35" height="80.14" fill="#7e9fcf"/>
<rect x="1191.37" y="2319.08" width="25.35" height="40.22" fill="#a3a3a3"/>
<rect x="1191.37" y="2297.08" width="25.35" height="22.3" fill="#f8bc20"/>
<rect x="1191.37" y="2276.72" width="25.35" height="20.67" fill="#5595cf"/>
<rect x="1191.37" y="1962.24" width="25.35" height="314.77" fill="#66aa4e"/>
<rect x="1191.37" y="1840.04" width="25.35" height="122.51" fill="#93702d"/>
<rect x="1191.37" y="1818.85" width="25.35" height="21.48" fill="#3d6534"/>
<rect x="1191.37" y="1670.58" width="25.35" height="148.58" fill="#6489c4"/>
<rect x="1191.37" y="1628.21" width="25.35" height="42.66" fill="#7cb86e"/>
<rect x="1191.37" y="1607.03" width="25.35" height="21.48" fill="#3463ab"/>
<rect x="1191.37" y="1586.66" width="25.35" height="20.67" fill="#d8672d"/>
<rect x="1191.37" y="1544.3" width="25.35" height="42.66" fill="#c99a33"/>
<rect x="1216.42" y="2337.82" width="25.35" height="21.48" fill="#4170b3"/>
<rect x="1216.42" y="2313.38" width="25.35" height="24.74" fill="#ec7d35"/>
<rect x="1216.42" y="2291.38" width="25.35" height="22.3" fill="#a3a3a3"/>
<rect x="1216.42" y="2033.93" width="25.35" height="257.75" fill="#f8bc20"/>
<rect x="1216.42" y="2011.53" width="25.35" height="22.7" fill="#5595cf"/>
<rect x="1216.42" y="1961.43" width="25.35" height="50.4" fill="#66aa4e"/>
<rect x="1216.42" y="1941.87" width="25.35" height="19.85" fill="#2a4e8a"/>
<rect x="1216.42" y="1917.03" width="25.35" height="25.15" fill="#93702d"/>
<rect x="1216.42" y="1896.25" width="25.35" height="21.07" fill="#24619a"/>
<rect x="1216.42" y="1849.81" width="25.35" height="46.74" fill="#3d6534"/>
<rect x="1216.42" y="1662.43" width="25.35" height="187.68" fill="#6489c4"/>
<rect x="1216.42" y="1637.99" width="25.35" height="24.74" fill="#b2b3b4"/>
<rect x="1216.42" y="1615.99" width="25.35" height="22.3" fill="#7cb86e"/>
<rect x="1216.42" y="1567.93" width="25.35" height="48.37" fill="#838384"/>
<rect x="1216.42" y="1544.3" width="25.35" height="23.93" fill="#2a79bd"/>
<rect x="1241.48" y="2020.9" width="25.35" height="338.4" fill="#ec7d35"/>
<rect x="1241.48" y="1981.79" width="25.35" height="39.41" fill="#a3a3a3"/>
<rect x="1241.48" y="1943.91" width="25.35" height="38.18" fill="#f8bc20"/>
<rect x="1241.48" y="1924.76" width="25.35" height="19.45" fill="#5595cf"/>
<rect x="1241.48" y="1854.29" width="25.35" height="70.77" fill="#66aa4e"/>
<rect x="1241.48" y="1834.33" width="25.35" height="20.26" fill="#9d4b23"/>
<rect x="1241.48" y="1785.45" width="25.35" height="49.18" fill="#646566"/>
<rect x="1241.48" y="1666.91" width="25.35" height="118.84" fill="#3d6534"/>
<rect x="1241.48" y="1656.32" width="25.35" height="10.89" fill="#b2b3b4"/>
<rect x="1241.48" y="1595.63" width="25.35" height="61" fill="#6ea7d8"/>
<rect x="1241.48" y="1584.22" width="25.35" height="11.71" fill="#7cb86e"/>
<rect x="1241.48" y="1577.7" width="25.35" height="6.82" fill="#3463ab"/>
<rect x="1241.48" y="1575.26" width="25.35" height="2.74" fill="#d8672d"/>
<rect x="1241.48" y="1567.11" width="25.35" height="8.45" fill="#c99a33"/>
<rect x="1241.48" y="1544.3" width="25.35" height="23.11" fill="#2a79bd"/>
<rect x="1266.53" y="1585.03" width="25.35" height="774.27" fill="#4170b3"/>
<rect x="1266.53" y="1580.96" width="25.35" height="4.37" fill="#f8bc20"/>
<rect x="1266.53" y="1576.89" width="25.35" height="4.37" fill="#66aa4e"/>
<rect x="1266.53" y="1573.63" width="25.35" height="3.56" fill="#24619a"/>
<rect x="1266.53" y="1567.93" width="25.35" height="6" fill="#3d6534"/>
<rect x="1266.53" y="1561.41" width="25.35" height="6.82" fill="#ec9060"/>
<rect x="1266.53" y="1557.74" width="25.35" height="3.97" fill="#7cb86e"/>
<rect x="1266.53" y="1550.82" width="25.35" height="7.22" fill="#d8672d"/>
<rect x="1266.53" y="1544.3" width="25.35" height="6.82" fill="#6ea7d8"/>
<rect x="1291.58" y="2000.94" width="25.35" height="358.36" fill="#ec7d35"/>
<rect x="1291.58" y="1974.46" width="25.35" height="26.78" fill="#5595cf"/>
<rect x="1291.58" y="1893.81" width="25.35" height="80.96" fill="#66aa4e"/>
<rect x="1291.58" y="1832.7" width="25.35" height="61.4" fill="#93702d"/>
<rect x="1291.58" y="1726.79" width="25.35" height="106.21" fill="#3d6534"/>
<rect x="1291.58" y="1640.84" width="25.35" height="86.25" fill="#6ea7d8"/>
<rect x="1291.58" y="1617.62" width="25.35" height="23.52" fill="#d8672d"/>
<rect x="1291.58" y="1569.56" width="25.35" height="48.37" fill="#2a79bd"/>
<rect x="1291.58" y="1544.3" width="25.35" height="25.56" fill="#518c47"/>
<rect x="1316.64" y="2087.7" width="25.35" height="271.6" fill="#ec7d35"/>
<rect x="1316.64" y="2071.41" width="25.35" height="16.59" fill="#66aa4e"/>
<rect x="1316.64" y="1786.27" width="25.35" height="285.44" fill="#2a4e8a"/>
<rect x="1316.64" y="1770.79" width="25.35" height="15.78" fill="#646566"/>
<rect x="1316.64" y="1753.68" width="25.35" height="17.41" fill="#93702d"/>
<rect x="1316.64" y="1658.36" width="25.35" height="95.62" fill="#3d6534"/>
<rect x="1316.64" y="1642.06" width="25.35" height="16.59" fill="#b2b3b4"/>
<rect x="1316.64" y="1610.29" width="25.35" height="32.07" fill="#d8672d"/>
<rect x="1316.64" y="1544.3" width="25.35" height="66.29" fill="#2a79bd"/>
<rect x="1341.69" y="2352.48" width="25.35" height="6.82" fill="#4170b3"/>
<rect x="1341.69" y="2073.86" width="25.35" height="278.93" fill="#ec7d35"/>
<rect x="1341.69" y="2055.12" width="25.35" height="19.04" fill="#f8bc20"/>
<rect x="1341.69" y="2044.53" width="25.35" height="10.89" fill="#5595cf"/>
<rect x="1341.69" y="2024.97" width="25.35" height="19.85" fill="#66aa4e"/>
<rect x="1341.69" y="1933.73" width="25.35" height="91.55" fill="#9d4b23"/>
<rect x="1341.69" y="1914.99" width="25.35" height="19.04" fill="#646566"/>
<rect x="1341.69" y="1833.52" width="25.35" height="81.77" fill="#3d6534"/>
<rect x="1341.69" y="1629.03" width="25.35" height="204.79" fill="#6489c4"/>
<rect x="1341.69" y="1582.18" width="25.35" height="47.15" fill="#ec9060"/>
<rect x="1341.69" y="1564.67" width="25.35" height="17.82" fill="#b2b3b4"/>
<rect x="1341.69" y="1554.89" width="25.35" height="10.08" fill="#7cb86e"/>
<rect x="1341.69" y="1544.3" width="25.35" height="10.89" fill="#838384"/>
<rect x="1366.75" y="2248.2" width="25.35" height="111.1" fill="#a3a3a3"/>
<rect x="1366.75" y="2114.59" width="25.35" height="133.91" fill="#f8bc20"/>
<rect x="1366.75" y="1937.39" width="25.35" height="177.5" fill="#5595cf"/>
<rect x="1366.75" y="1903.58" width="25.35" height="34.11" fill="#646566"/>
<rect x="1366.75" y="1774.86" width="25.35" height="129.02" fill="#93702d"/>
<rect x="1366.75" y="1758.57" width="25.35" height="16.59" fill="#24619a"/>
<rect x="1366.75" y="1659.17" width="25.35" height="99.69" fill="#7cb86e"/>
<rect x="1366.75" y="1544.3" width="25.35" height="115.17" fill="#3463ab"/>
</g>
<text x="103.6" y="2374.9" text-anchor="end" textLength="50" lengthAdjust="spacingAndGlyphs" class="tk">0%</text>
<text x="103.6" y="2293.15" text-anchor="end" textLength="69" lengthAdjust="spacingAndGlyphs" class="tk">10%</text>
<text x="103.6" y="2211.4" text-anchor="end" textLength="69" lengthAdjust="spacingAndGlyphs" class="tk">20%</text>
<text x="103.6" y="2129.65" text-anchor="end" textLength="69" lengthAdjust="spacingAndGlyphs" class="tk">30%</text>
<text x="103.6" y="2047.9" text-anchor="end" textLength="69" lengthAdjust="spacingAndGlyphs" class="tk">40%</text>
<text x="103.6" y="1966.15" text-anchor="end" textLength="69" lengthAdjust="spacingAndGlyphs" class="tk">50%</text>
<text x="103.6" y="1884.4" text-anchor="end" textLength="69" lengthAdjust="spacingAndGlyphs" class="tk">60%</text>
<text x="103.6" y="1802.65" text-anchor="end" textLength="69" lengthAdjust="spacingAndGlyphs" class="tk">70%</text>
<text x="103.6" y="1720.9" text-anchor="end" textLength="69" lengthAdjust="spacingAndGlyphs" class="tk">80%</text>
<text x="103.6" y="1639.15" text-anchor="end" textLength="69" lengthAdjust="spacingAndGlyphs" class="tk">90%</text>
<text x="103.6" y="1557.4" text-anchor="end" textLength="90" lengthAdjust="spacingAndGlyphs" class="tk">100%</text>
<text transform="translate(165.33 2383.8) rotate(-90)" text-anchor="end" textLength="41.5" lengthAdjust="spacingAndGlyphs" class="xt">13</text>
<text transform="translate(215.44 2383.8) rotate(-90)" text-anchor="end" textLength="41.5" lengthAdjust="spacingAndGlyphs" class="xt">27</text>
<text transform="translate(265.54 2383.8) rotate(-90)" text-anchor="end" textLength="41.5" lengthAdjust="spacingAndGlyphs" class="xt">74</text>
<text transform="translate(315.65 2383.8) rotate(-90)" text-anchor="end" textLength="41.5" lengthAdjust="spacingAndGlyphs" class="xt">90</text>
<text transform="translate(365.76 2383.8) rotate(-90)" text-anchor="end" textLength="60.5" lengthAdjust="spacingAndGlyphs" class="xt">112</text>
<text transform="translate(415.87 2383.8) rotate(-90)" text-anchor="end" textLength="60.5" lengthAdjust="spacingAndGlyphs" class="xt">163</text>
<text transform="translate(465.97 2383.8) rotate(-90)" text-anchor="end" textLength="60.5" lengthAdjust="spacingAndGlyphs" class="xt">174</text>
<text transform="translate(516.08 2383.8) rotate(-90)" text-anchor="end" textLength="60.5" lengthAdjust="spacingAndGlyphs" class="xt">203</text>
<text transform="translate(566.19 2383.8) rotate(-90)" text-anchor="end" textLength="60.5" lengthAdjust="spacingAndGlyphs" class="xt">233</text>
<text transform="translate(616.3 2383.8) rotate(-90)" text-anchor="end" textLength="60.5" lengthAdjust="spacingAndGlyphs" class="xt">255</text>
<text transform="translate(666.41 2383.8) rotate(-90)" text-anchor="end" textLength="60.5" lengthAdjust="spacingAndGlyphs" class="xt">280</text>
<text transform="translate(716.51 2383.8) rotate(-90)" text-anchor="end" textLength="60.5" lengthAdjust="spacingAndGlyphs" class="xt">306</text>
<text transform="translate(766.62 2383.8) rotate(-90)" text-anchor="end" textLength="60.5" lengthAdjust="spacingAndGlyphs" class="xt">328</text>
<text transform="translate(816.73 2383.8) rotate(-90)" text-anchor="end" textLength="60.5" lengthAdjust="spacingAndGlyphs" class="xt">347</text>
<text transform="translate(866.84 2383.8) rotate(-90)" text-anchor="end" textLength="60.5" lengthAdjust="spacingAndGlyphs" class="xt">367</text>
<text transform="translate(916.95 2383.8) rotate(-90)" text-anchor="end" textLength="60.5" lengthAdjust="spacingAndGlyphs" class="xt">378</text>
<text transform="translate(967.05 2383.8) rotate(-90)" text-anchor="end" textLength="60.5" lengthAdjust="spacingAndGlyphs" class="xt">393</text>
<text transform="translate(1017.16 2383.8) rotate(-90)" text-anchor="end" textLength="60.5" lengthAdjust="spacingAndGlyphs" class="xt">410</text>
<text transform="translate(1067.27 2383.8) rotate(-90)" text-anchor="end" textLength="60.5" lengthAdjust="spacingAndGlyphs" class="xt">440</text>
<text transform="translate(1117.38 2383.8) rotate(-90)" text-anchor="end" textLength="60.5" lengthAdjust="spacingAndGlyphs" class="xt">461</text>
<text transform="translate(1167.49 2383.8) rotate(-90)" text-anchor="end" textLength="60.5" lengthAdjust="spacingAndGlyphs" class="xt">480</text>
<text transform="translate(1217.59 2383.8) rotate(-90)" text-anchor="end" textLength="60.5" lengthAdjust="spacingAndGlyphs" class="xt">512</text>
<text transform="translate(1267.7 2383.8) rotate(-90)" text-anchor="end" textLength="60.5" lengthAdjust="spacingAndGlyphs" class="xt">553</text>
<text transform="translate(1317.81 2383.8) rotate(-90)" text-anchor="end" textLength="60.5" lengthAdjust="spacingAndGlyphs" class="xt">566</text>
<text transform="translate(1367.92 2383.8) rotate(-90)" text-anchor="end" textLength="60.5" lengthAdjust="spacingAndGlyphs" class="xt">580</text>
<text x="665" y="2504.7" textLength="201" lengthAdjust="spacingAndGlyphs" class="ax">Age (days)</text>
<rect x="1435.75" y="274.4" width="23.25" height="21" fill="#7e9fcf"/>
<text x="1467.3" y="296.6" textLength="461.5" lengthAdjust="spacingAndGlyphs" class="lg">Schizosaccharomyces pombe</text>
<rect x="1435.75" y="317.27" width="23.25" height="21" fill="#518c47"/>
<text x="1467.3" y="339.47" textLength="415.8" lengthAdjust="spacingAndGlyphs" class="lg">Cryptococcus neoformans</text>
<rect x="1435.75" y="360.14" width="23.25" height="21" fill="#2a79bd"/>
<text x="1467.3" y="382.34" textLength="430.2" lengthAdjust="spacingAndGlyphs" class="lg">Naumovozyma dairenensis</text>
<rect x="1435.75" y="403.01" width="23.25" height="21" fill="#c99a33"/>
<text x="1467.3" y="425.21" textLength="337.4" lengthAdjust="spacingAndGlyphs" class="lg">Tetrapisispora phaffii</text>
<rect x="1435.75" y="445.88" width="23.25" height="21" fill="#838384"/>
<text x="1467.3" y="468.08" textLength="413.6" lengthAdjust="spacingAndGlyphs" class="lg">Zygosaccharomyces rouxii</text>
<rect x="1435.75" y="488.75" width="23.25" height="21" fill="#d8672d"/>
<text x="1467.3" y="510.95" textLength="532.6" lengthAdjust="spacingAndGlyphs" class="lg">Thermothelomyces thermophilus</text>
<rect x="1435.75" y="531.62" width="23.25" height="21" fill="#3463ab"/>
<text x="1467.3" y="553.82" textLength="432.4" lengthAdjust="spacingAndGlyphs" class="lg">Sugiyamaella lignohabitans</text>
<rect x="1435.75" y="574.49" width="23.25" height="21" fill="#7cb86e"/>
<text x="1467.3" y="596.69" textLength="365.7" lengthAdjust="spacingAndGlyphs" class="lg">Naumovozyma castellii</text>
<rect x="1435.75" y="617.36" width="23.25" height="21" fill="#6ea7d8"/>
<text x="1467.3" y="639.56" textLength="250.2" lengthAdjust="spacingAndGlyphs" class="lg">Botrytis cinerea</text>
<rect x="1435.75" y="660.23" width="23.25" height="21" fill="#f9c53b"/>
<text x="1467.3" y="682.43" textLength="415.8" lengthAdjust="spacingAndGlyphs" class="lg">Kluyveromyces marxianus</text>
<rect x="1435.75" y="703.1" width="23.25" height="21" fill="#b2b3b4"/>
<text x="1467.3" y="725.3" textLength="315.6" lengthAdjust="spacingAndGlyphs" class="lg">Malassezia restricta</text>
<rect x="1435.75" y="745.97" width="23.25" height="21" fill="#ec9060"/>
<text x="1467.3" y="768.17" textLength="365.7" lengthAdjust="spacingAndGlyphs" class="lg">Talaromyces rugulosus</text>
<rect x="1435.75" y="788.84" width="23.25" height="21" fill="#6489c4"/>
<text x="1467.3" y="811.04" textLength="348.7" lengthAdjust="spacingAndGlyphs" class="lg">Tetrapisispora blattae</text>
<rect x="1435.75" y="831.71" width="23.25" height="21" fill="#3d6534"/>
<text x="1467.3" y="853.91" textLength="536.8" lengthAdjust="spacingAndGlyphs" class="lg">Purpureocillium takamizusanense</text>
<rect x="1435.75" y="874.58" width="23.25" height="21" fill="#24619a"/>
<text x="1467.3" y="896.78" textLength="392.2" lengthAdjust="spacingAndGlyphs" class="lg">Aspergillus puulaauensis</text>
<rect x="1435.75" y="917.45" width="23.25" height="21" fill="#93702d"/>
<text x="1467.3" y="939.65" textLength="482.3" lengthAdjust="spacingAndGlyphs" class="lg">Thermothielavioides terrestris</text>
<rect x="1435.75" y="960.32" width="23.25" height="21" fill="#646566"/>
<text x="1467.3" y="982.52" textLength="294.5" lengthAdjust="spacingAndGlyphs" class="lg">Yarrowia lipolytica</text>
<rect x="1435.75" y="1003.19" width="23.25" height="21" fill="#9d4b23"/>
<text x="1467.3" y="1025.39" textLength="411.6" lengthAdjust="spacingAndGlyphs" class="lg">Saccharomyces cerevisiae</text>
<rect x="1435.75" y="1046.06" width="23.25" height="21" fill="#2a4e8a"/>
<text x="1467.3" y="1068.26" textLength="293.8" lengthAdjust="spacingAndGlyphs" class="lg">Penicillium rubens</text>
<rect x="1435.75" y="1088.93" width="23.25" height="21" fill="#66aa4e"/>
<text x="1467.3" y="1111.13" textLength="350.5" lengthAdjust="spacingAndGlyphs" class="lg">Aspergillus luchuensis</text>
<rect x="1435.75" y="1131.8" width="23.25" height="21" fill="#5595cf"/>
<text x="1467.3" y="1154" textLength="331.8" lengthAdjust="spacingAndGlyphs" class="lg">Ustilaginoidea virens</text>
<rect x="1435.75" y="1174.67" width="23.25" height="21" fill="#f8bc20"/>
<text x="1467.3" y="1196.87" textLength="327.5" lengthAdjust="spacingAndGlyphs" class="lg">Candida dubliniensis</text>
<rect x="1435.75" y="1217.54" width="23.25" height="21" fill="#a3a3a3"/>
<text x="1467.3" y="1239.74" textLength="290.1" lengthAdjust="spacingAndGlyphs" class="lg">Pichia kudriavzevii</text>
<rect x="1435.75" y="1260.41" width="23.25" height="21" fill="#ec7d35"/>
<text x="1467.3" y="1282.61" textLength="275.1" lengthAdjust="spacingAndGlyphs" class="lg">Aspergillus flavus</text>
<rect x="1435.75" y="1303.28" width="23.25" height="21" fill="#4170b3"/>
<text x="1467.3" y="1325.48" textLength="267.1" lengthAdjust="spacingAndGlyphs" class="lg">Candida albicans</text>
<rect x="1429.3" y="1457.3" width="20.6" height="20.6" fill="#7e9fcf"/>
<text x="1460.7" y="1477.9" textLength="266.3" lengthAdjust="spacingAndGlyphs" class="lg">Candida albicans</text>
<rect x="1429.3" y="1500.95" width="20.6" height="20.6" fill="#518c47"/>
<text x="1460.7" y="1521.55" textLength="293.1" lengthAdjust="spacingAndGlyphs" class="lg">Yarrowia lipolytica</text>
<rect x="1429.3" y="1544.6" width="20.6" height="20.6" fill="#2a79bd"/>
<text x="1460.7" y="1565.2" textLength="289.4" lengthAdjust="spacingAndGlyphs" class="lg">Pichia kudriavzevii</text>
<rect x="1429.3" y="1588.25" width="20.6" height="20.6" fill="#c99a33"/>
<text x="1460.7" y="1608.85" textLength="372.5" lengthAdjust="spacingAndGlyphs" class="lg">Kazachstania naganishii</text>
<rect x="1429.3" y="1631.9" width="20.6" height="20.6" fill="#838384"/>
<text x="1460.7" y="1652.5" textLength="430.3" lengthAdjust="spacingAndGlyphs" class="lg">Sugiyamaella lignohabitans</text>
<rect x="1429.3" y="1675.55" width="20.6" height="20.6" fill="#d8672d"/>
<text x="1460.7" y="1696.15" textLength="326.7" lengthAdjust="spacingAndGlyphs" class="lg">Candida dubliniensis</text>
<rect x="1429.3" y="1719.2" width="20.6" height="20.6" fill="#3463ab"/>
<text x="1460.7" y="1739.8" textLength="368.8" lengthAdjust="spacingAndGlyphs" class="lg">Eremothecium gossypii</text>
<rect x="1429.3" y="1762.85" width="20.6" height="20.6" fill="#7cb86e"/>
<text x="1460.7" y="1783.45" textLength="435.4" lengthAdjust="spacingAndGlyphs" class="lg">Eremothecium cymbalariae</text>
<rect x="1429.3" y="1806.5" width="20.6" height="20.6" fill="#6ea7d8"/>
<text x="1460.7" y="1827.1" textLength="347.6" lengthAdjust="spacingAndGlyphs" class="lg">Tetrapisispora blattae</text>
<rect x="1429.3" y="1850.15" width="20.6" height="20.6" fill="#f9c53b"/>
<text x="1460.7" y="1870.75" textLength="331.1" lengthAdjust="spacingAndGlyphs" class="lg">Kluyveromyces lactis</text>
<rect x="1429.3" y="1893.8" width="20.6" height="20.6" fill="#b2b3b4"/>
<text x="1460.7" y="1914.4" textLength="460.3" lengthAdjust="spacingAndGlyphs" class="lg">Schizosaccharomyces pombe</text>
<rect x="1429.3" y="1937.45" width="20.6" height="20.6" fill="#ec9060"/>
<text x="1460.7" y="1958.05" textLength="535.4" lengthAdjust="spacingAndGlyphs" class="lg">Purpureocillium takamizusanense</text>
<rect x="1429.3" y="1981.1" width="20.6" height="20.6" fill="#6489c4"/>
<text x="1460.7" y="2001.7" textLength="364.1" lengthAdjust="spacingAndGlyphs" class="lg">Talaromyces rugulosus</text>
<rect x="1429.3" y="2024.75" width="20.6" height="20.6" fill="#3d6534"/>
<text x="1460.7" y="2045.35" textLength="480.5" lengthAdjust="spacingAndGlyphs" class="lg">Thermothielavioides terrestris</text>
<rect x="1429.3" y="2068.4" width="20.6" height="20.6" fill="#24619a"/>
<text x="1460.7" y="2089" textLength="334.8" lengthAdjust="spacingAndGlyphs" class="lg">Tetrapisispora phaffii</text>
<rect x="1429.3" y="2112.05" width="20.6" height="20.6" fill="#93702d"/>
<text x="1460.7" y="2132.65" textLength="530.6" lengthAdjust="spacingAndGlyphs" class="lg">Thermothelomyces thermophilus</text>
<rect x="1429.3" y="2155.7" width="20.6" height="20.6" fill="#646566"/>
<text x="1460.7" y="2176.3" textLength="390.8" lengthAdjust="spacingAndGlyphs" class="lg">Aspergillus puulaauensis</text>
<rect x="1429.3" y="2199.35" width="20.6" height="20.6" fill="#9d4b23"/>
<text x="1460.7" y="2219.95" textLength="274.4" lengthAdjust="spacingAndGlyphs" class="lg">Aspergillus flavus</text>
<rect x="1429.3" y="2243" width="20.6" height="20.6" fill="#2a4e8a"/>
<text x="1460.7" y="2263.6" textLength="380.5" lengthAdjust="spacingAndGlyphs" class="lg">Scheffersomyces stipitis</text>
<rect x="1429.3" y="2286.65" width="20.6" height="20.6" fill="#66aa4e"/>
<text x="1460.7" y="2307.25" textLength="428.5" lengthAdjust="spacingAndGlyphs" class="lg">Naumovozyma dairenensis</text>
<rect x="1429.3" y="2330.3" width="20.6" height="20.6" fill="#5595cf"/>
<text x="1460.7" y="2350.9" textLength="365.2" lengthAdjust="spacingAndGlyphs" class="lg">Naumovozyma castellii</text>
<rect x="1429.3" y="2373.95" width="20.6" height="20.6" fill="#f8bc20"/>
<text x="1460.7" y="2394.55" textLength="249.9" lengthAdjust="spacingAndGlyphs" class="lg">Botrytis cinerea</text>
<rect x="1429.3" y="2417.6" width="20.6" height="20.6" fill="#a3a3a3"/>
<text x="1460.7" y="2438.2" textLength="268.2" lengthAdjust="spacingAndGlyphs" class="lg">Candida glabrata</text>
<rect x="1429.3" y="2461.25" width="20.6" height="20.6" fill="#ec7d35"/>
<text x="1460.7" y="2481.85" textLength="349.4" lengthAdjust="spacingAndGlyphs" class="lg">Aspergillus luchuensis</text>
<rect x="1429.3" y="2504.9" width="20.6" height="20.6" fill="#4170b3"/>
<text x="1460.7" y="2525.5" textLength="410.2" lengthAdjust="spacingAndGlyphs" class="lg">Saccharomyces cerevisiae</text>
</svg></body></html>
